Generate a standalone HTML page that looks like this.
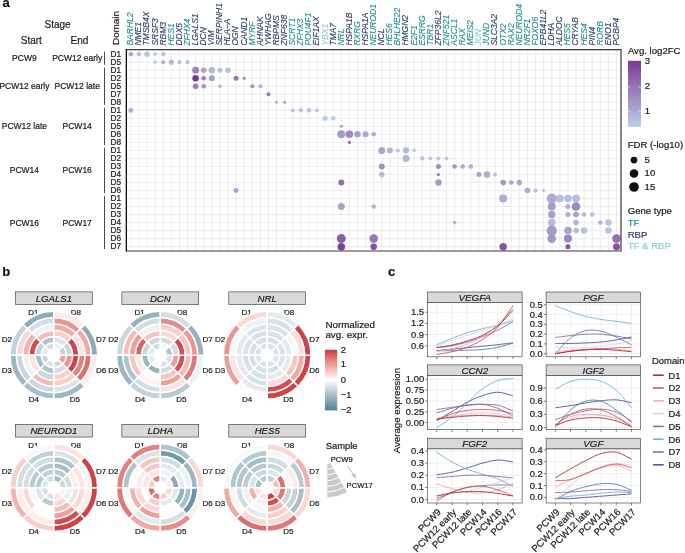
<!DOCTYPE html>
<html><head><meta charset="utf-8"><style>
html,body{margin:0;padding:0;background:#fff;width:685px;height:553px;overflow:hidden}
svg{display:block;will-change:transform}
text{stroke:#1a1a1a;stroke-width:0.2px}
</style></head><body>
<svg width="685" height="553" viewBox="0 0 685 553">
<rect width="685" height="553" fill="#fff"/>
<g stroke="#ebebeb" stroke-width="1"><line x1="130.86" y1="49.6" x2="130.86" y2="251.0"/><line x1="138.95" y1="49.6" x2="138.95" y2="251.0"/><line x1="147.05" y1="49.6" x2="147.05" y2="251.0"/><line x1="155.14" y1="49.6" x2="155.14" y2="251.0"/><line x1="163.24" y1="49.6" x2="163.24" y2="251.0"/><line x1="171.33" y1="49.6" x2="171.33" y2="251.0"/><line x1="179.42" y1="49.6" x2="179.42" y2="251.0"/><line x1="187.52" y1="49.6" x2="187.52" y2="251.0"/><line x1="195.61" y1="49.6" x2="195.61" y2="251.0"/><line x1="203.71" y1="49.6" x2="203.71" y2="251.0"/><line x1="211.80" y1="49.6" x2="211.80" y2="251.0"/><line x1="219.89" y1="49.6" x2="219.89" y2="251.0"/><line x1="227.99" y1="49.6" x2="227.99" y2="251.0"/><line x1="236.08" y1="49.6" x2="236.08" y2="251.0"/><line x1="244.18" y1="49.6" x2="244.18" y2="251.0"/><line x1="252.27" y1="49.6" x2="252.27" y2="251.0"/><line x1="260.36" y1="49.6" x2="260.36" y2="251.0"/><line x1="268.46" y1="49.6" x2="268.46" y2="251.0"/><line x1="276.55" y1="49.6" x2="276.55" y2="251.0"/><line x1="284.65" y1="49.6" x2="284.65" y2="251.0"/><line x1="292.74" y1="49.6" x2="292.74" y2="251.0"/><line x1="300.83" y1="49.6" x2="300.83" y2="251.0"/><line x1="308.93" y1="49.6" x2="308.93" y2="251.0"/><line x1="317.02" y1="49.6" x2="317.02" y2="251.0"/><line x1="325.12" y1="49.6" x2="325.12" y2="251.0"/><line x1="333.21" y1="49.6" x2="333.21" y2="251.0"/><line x1="341.30" y1="49.6" x2="341.30" y2="251.0"/><line x1="349.40" y1="49.6" x2="349.40" y2="251.0"/><line x1="357.49" y1="49.6" x2="357.49" y2="251.0"/><line x1="365.59" y1="49.6" x2="365.59" y2="251.0"/><line x1="373.68" y1="49.6" x2="373.68" y2="251.0"/><line x1="381.77" y1="49.6" x2="381.77" y2="251.0"/><line x1="389.87" y1="49.6" x2="389.87" y2="251.0"/><line x1="397.96" y1="49.6" x2="397.96" y2="251.0"/><line x1="406.06" y1="49.6" x2="406.06" y2="251.0"/><line x1="414.15" y1="49.6" x2="414.15" y2="251.0"/><line x1="422.24" y1="49.6" x2="422.24" y2="251.0"/><line x1="430.34" y1="49.6" x2="430.34" y2="251.0"/><line x1="438.43" y1="49.6" x2="438.43" y2="251.0"/><line x1="446.53" y1="49.6" x2="446.53" y2="251.0"/><line x1="454.62" y1="49.6" x2="454.62" y2="251.0"/><line x1="462.71" y1="49.6" x2="462.71" y2="251.0"/><line x1="470.81" y1="49.6" x2="470.81" y2="251.0"/><line x1="478.90" y1="49.6" x2="478.90" y2="251.0"/><line x1="487.00" y1="49.6" x2="487.00" y2="251.0"/><line x1="495.09" y1="49.6" x2="495.09" y2="251.0"/><line x1="503.18" y1="49.6" x2="503.18" y2="251.0"/><line x1="511.28" y1="49.6" x2="511.28" y2="251.0"/><line x1="519.37" y1="49.6" x2="519.37" y2="251.0"/><line x1="527.47" y1="49.6" x2="527.47" y2="251.0"/><line x1="535.56" y1="49.6" x2="535.56" y2="251.0"/><line x1="543.65" y1="49.6" x2="543.65" y2="251.0"/><line x1="551.75" y1="49.6" x2="551.75" y2="251.0"/><line x1="559.84" y1="49.6" x2="559.84" y2="251.0"/><line x1="567.94" y1="49.6" x2="567.94" y2="251.0"/><line x1="576.03" y1="49.6" x2="576.03" y2="251.0"/><line x1="584.12" y1="49.6" x2="584.12" y2="251.0"/><line x1="592.22" y1="49.6" x2="592.22" y2="251.0"/><line x1="600.31" y1="49.6" x2="600.31" y2="251.0"/><line x1="608.41" y1="49.6" x2="608.41" y2="251.0"/><line x1="616.50" y1="49.6" x2="616.50" y2="251.0"/><line x1="126.4" y1="54.16" x2="621.0" y2="54.16"/><line x1="126.4" y1="62.18" x2="621.0" y2="62.18"/><line x1="126.4" y1="70.20" x2="621.0" y2="70.20"/><line x1="126.4" y1="78.22" x2="621.0" y2="78.22"/><line x1="126.4" y1="86.24" x2="621.0" y2="86.24"/><line x1="126.4" y1="94.26" x2="621.0" y2="94.26"/><line x1="126.4" y1="102.28" x2="621.0" y2="102.28"/><line x1="126.4" y1="110.30" x2="621.0" y2="110.30"/><line x1="126.4" y1="118.32" x2="621.0" y2="118.32"/><line x1="126.4" y1="126.34" x2="621.0" y2="126.34"/><line x1="126.4" y1="134.36" x2="621.0" y2="134.36"/><line x1="126.4" y1="142.38" x2="621.0" y2="142.38"/><line x1="126.4" y1="150.40" x2="621.0" y2="150.40"/><line x1="126.4" y1="158.42" x2="621.0" y2="158.42"/><line x1="126.4" y1="166.44" x2="621.0" y2="166.44"/><line x1="126.4" y1="174.46" x2="621.0" y2="174.46"/><line x1="126.4" y1="182.48" x2="621.0" y2="182.48"/><line x1="126.4" y1="190.50" x2="621.0" y2="190.50"/><line x1="126.4" y1="198.52" x2="621.0" y2="198.52"/><line x1="126.4" y1="206.54" x2="621.0" y2="206.54"/><line x1="126.4" y1="214.56" x2="621.0" y2="214.56"/><line x1="126.4" y1="222.58" x2="621.0" y2="222.58"/><line x1="126.4" y1="230.60" x2="621.0" y2="230.60"/><line x1="126.4" y1="238.62" x2="621.0" y2="238.62"/><line x1="126.4" y1="246.64" x2="621.0" y2="246.64"/></g>
<g><circle cx="130.86" cy="54.16" r="2.20" fill="#aaa2ce"/><circle cx="138.95" cy="54.16" r="2.20" fill="#b4c0de"/><circle cx="147.05" cy="54.16" r="2.75" fill="#b6c4e0"/><circle cx="155.14" cy="54.16" r="1.65" fill="#b4c0de"/><circle cx="163.24" cy="54.16" r="2.15" fill="#b6c4e0"/><circle cx="155.14" cy="62.18" r="1.65" fill="#b4c0de"/><circle cx="163.24" cy="62.18" r="2.05" fill="#aeafd5"/><circle cx="171.33" cy="62.18" r="2.60" fill="#b3bbdb"/><circle cx="179.42" cy="62.18" r="2.15" fill="#b6c4e0"/><circle cx="187.52" cy="62.18" r="2.15" fill="#b6c4e0"/><circle cx="195.61" cy="70.20" r="3.40" fill="#9b7eba"/><circle cx="203.71" cy="70.20" r="2.80" fill="#aaa2ce"/><circle cx="211.80" cy="70.20" r="3.25" fill="#b3bbdb"/><circle cx="219.89" cy="70.20" r="2.50" fill="#b4c0de"/><circle cx="227.99" cy="70.20" r="2.75" fill="#b6c4e0"/><circle cx="195.61" cy="78.22" r="3.25" fill="#7b3894"/><circle cx="203.71" cy="78.22" r="2.30" fill="#9b7eba"/><circle cx="211.80" cy="78.22" r="3.00" fill="#a79bca"/><circle cx="236.08" cy="78.22" r="2.50" fill="#9776b5"/><circle cx="244.18" cy="78.22" r="1.75" fill="#a79bca"/><circle cx="195.61" cy="86.24" r="2.80" fill="#9b7eba"/><circle cx="203.71" cy="86.24" r="2.30" fill="#a494c6"/><circle cx="219.89" cy="86.24" r="1.75" fill="#aeafd5"/><circle cx="252.27" cy="86.24" r="2.00" fill="#a18dc2"/><circle cx="260.36" cy="86.24" r="2.00" fill="#b1b5d8"/><circle cx="268.46" cy="94.26" r="1.95" fill="#9776b5"/><circle cx="276.55" cy="102.28" r="1.40" fill="#aaa2ce"/><circle cx="284.65" cy="102.28" r="1.50" fill="#aaa2ce"/><circle cx="130.86" cy="110.30" r="2.50" fill="#b1b5d8"/><circle cx="292.74" cy="110.30" r="1.90" fill="#b4c0de"/><circle cx="300.83" cy="110.30" r="2.10" fill="#b4c0de"/><circle cx="308.93" cy="110.30" r="2.25" fill="#b6c4e0"/><circle cx="317.02" cy="110.30" r="1.90" fill="#b6c4e0"/><circle cx="325.12" cy="118.32" r="2.65" fill="#bad0e7"/><circle cx="333.21" cy="118.32" r="2.30" fill="#bad0e7"/><circle cx="341.30" cy="126.34" r="1.45" fill="#a494c6"/><circle cx="341.30" cy="134.36" r="4.00" fill="#a79bca"/><circle cx="349.40" cy="134.36" r="3.75" fill="#9e86be"/><circle cx="357.49" cy="134.36" r="3.25" fill="#aaa2ce"/><circle cx="365.59" cy="134.36" r="3.00" fill="#aca9d1"/><circle cx="373.68" cy="134.36" r="2.25" fill="#aeafd5"/><circle cx="349.40" cy="142.38" r="1.60" fill="#946eb1"/><circle cx="381.77" cy="150.40" r="3.50" fill="#aba6d0"/><circle cx="389.87" cy="150.40" r="3.00" fill="#b1b5d8"/><circle cx="397.96" cy="150.40" r="2.00" fill="#b6c4e0"/><circle cx="406.06" cy="150.40" r="3.10" fill="#b3bbdb"/><circle cx="414.15" cy="150.40" r="1.80" fill="#bad0e7"/><circle cx="406.06" cy="158.42" r="3.50" fill="#b1b7d9"/><circle cx="422.24" cy="158.42" r="2.10" fill="#b4c0de"/><circle cx="430.34" cy="158.42" r="1.80" fill="#b6c4e0"/><circle cx="438.43" cy="158.42" r="1.80" fill="#b6c4e0"/><circle cx="446.53" cy="158.42" r="1.80" fill="#b6c4e0"/><circle cx="381.77" cy="166.44" r="3.00" fill="#a18dc2"/><circle cx="438.43" cy="166.44" r="2.50" fill="#a18dc2"/><circle cx="454.62" cy="166.44" r="2.30" fill="#a494c6"/><circle cx="462.71" cy="166.44" r="2.30" fill="#aca9d1"/><circle cx="470.81" cy="166.44" r="2.30" fill="#aeafd5"/><circle cx="381.77" cy="174.46" r="2.80" fill="#b3bbdb"/><circle cx="438.43" cy="174.46" r="1.55" fill="#9776b5"/><circle cx="478.90" cy="174.46" r="2.50" fill="#aaa2ce"/><circle cx="487.00" cy="174.46" r="3.20" fill="#adabd3"/><circle cx="495.09" cy="174.46" r="2.00" fill="#b4c0de"/><circle cx="341.30" cy="182.48" r="3.00" fill="#946eb1"/><circle cx="438.43" cy="182.48" r="3.25" fill="#a79bca"/><circle cx="503.18" cy="182.48" r="2.80" fill="#a494c6"/><circle cx="511.28" cy="182.48" r="2.30" fill="#aaa2ce"/><circle cx="519.37" cy="182.48" r="2.80" fill="#aca9d1"/><circle cx="236.08" cy="190.50" r="2.45" fill="#aaa2ce"/><circle cx="527.47" cy="190.50" r="2.80" fill="#aca9d1"/><circle cx="535.56" cy="190.50" r="2.00" fill="#b4c0de"/><circle cx="543.65" cy="190.50" r="1.50" fill="#b4c0de"/><circle cx="503.18" cy="198.52" r="4.00" fill="#adabd3"/><circle cx="551.75" cy="198.52" r="5.00" fill="#aca9d1"/><circle cx="559.84" cy="198.52" r="4.00" fill="#b4c0de"/><circle cx="567.94" cy="198.52" r="3.75" fill="#b4c0de"/><circle cx="576.03" cy="198.52" r="4.00" fill="#b4c0de"/><circle cx="341.30" cy="206.54" r="3.50" fill="#aaa2ce"/><circle cx="373.68" cy="206.54" r="2.25" fill="#b1b5d8"/><circle cx="551.75" cy="206.54" r="4.00" fill="#a79bca"/><circle cx="567.94" cy="206.54" r="2.50" fill="#aeafd5"/><circle cx="576.03" cy="206.54" r="4.25" fill="#9e86be"/><circle cx="551.75" cy="214.56" r="3.75" fill="#aaa2ce"/><circle cx="567.94" cy="214.56" r="2.50" fill="#aeafd5"/><circle cx="576.03" cy="214.56" r="2.75" fill="#a79bca"/><circle cx="584.12" cy="214.56" r="2.25" fill="#b3bbdb"/><circle cx="592.22" cy="214.56" r="2.25" fill="#b4c0de"/><circle cx="454.62" cy="222.58" r="1.80" fill="#b1b5d8"/><circle cx="551.75" cy="222.58" r="3.75" fill="#b3bbdb"/><circle cx="576.03" cy="222.58" r="2.75" fill="#b1b5d8"/><circle cx="600.31" cy="222.58" r="2.25" fill="#b1b5d8"/><circle cx="608.41" cy="222.58" r="3.25" fill="#b6c4e0"/><circle cx="551.75" cy="230.60" r="5.20" fill="#a79bca"/><circle cx="567.94" cy="230.60" r="3.75" fill="#aaa2ce"/><circle cx="576.03" cy="230.60" r="2.75" fill="#b3bbdb"/><circle cx="584.12" cy="230.60" r="3.25" fill="#b6c4e0"/><circle cx="608.41" cy="230.60" r="3.25" fill="#b6c4e0"/><circle cx="341.30" cy="238.62" r="4.50" fill="#8c5da7"/><circle cx="373.68" cy="238.62" r="4.25" fill="#9776b5"/><circle cx="551.75" cy="238.62" r="4.25" fill="#a494c6"/><circle cx="567.94" cy="238.62" r="4.00" fill="#9e86be"/><circle cx="616.50" cy="238.62" r="4.25" fill="#946eb1"/><circle cx="341.30" cy="246.64" r="3.75" fill="#804299"/><circle cx="373.68" cy="246.64" r="3.25" fill="#844b9e"/><circle cx="503.18" cy="246.64" r="3.75" fill="#8854a3"/><circle cx="567.94" cy="246.64" r="2.50" fill="#8854a3"/><circle cx="616.50" cy="246.64" r="3.50" fill="#864fa0"/></g>
<path d="M126.4 49.6H621.0V251.0H126.4Z" fill="none" stroke="#3a3a3a" stroke-width="1.2"/>
<line x1="126.4" y1="49.1" x2="126.4" y2="251.5" stroke="#111" stroke-width="1.2"/>
<g font-family='"Liberation Sans", sans-serif' font-style="italic" font-size="8.5"><text transform="translate(133.26,45.6) rotate(-90)" fill="#22908f" style="stroke:#22908f;stroke-width:0.12px">BARHL2</text><text transform="translate(141.35,45.6) rotate(-90)" fill="#2d3c6c" style="stroke:#2d3c6c;stroke-width:0.12px">NME1</text><text transform="translate(149.45,45.6) rotate(-90)" fill="#2d3c6c" style="stroke:#2d3c6c;stroke-width:0.12px">TMSB4X</text><text transform="translate(157.54,45.6) rotate(-90)" fill="#2d3c6c" style="stroke:#2d3c6c;stroke-width:0.12px">SRSF3</text><text transform="translate(165.64,45.6) rotate(-90)" fill="#2d3c6c" style="stroke:#2d3c6c;stroke-width:0.12px">RBM3</text><text transform="translate(173.73,45.6) rotate(-90)" fill="#22908f" style="stroke:#22908f;stroke-width:0.12px">HES1</text><text transform="translate(181.82,45.6) rotate(-90)" fill="#2d3c6c" style="stroke:#2d3c6c;stroke-width:0.12px">DDX5</text><text transform="translate(189.92,45.6) rotate(-90)" fill="#22908f" style="stroke:#22908f;stroke-width:0.12px">ZFHX4</text><text transform="translate(198.01,45.6) rotate(-90)" fill="#2d3c6c" style="stroke:#2d3c6c;stroke-width:0.12px">LGALS1</text><text transform="translate(206.11,45.6) rotate(-90)" fill="#2d3c6c" style="stroke:#2d3c6c;stroke-width:0.12px">DCN</text><text transform="translate(214.20,45.6) rotate(-90)" fill="#2d3c6c" style="stroke:#2d3c6c;stroke-width:0.12px">VIM</text><text transform="translate(222.29,45.6) rotate(-90)" fill="#2d3c6c" style="stroke:#2d3c6c;stroke-width:0.12px">SERPINH1</text><text transform="translate(230.39,45.6) rotate(-90)" fill="#2d3c6c" style="stroke:#2d3c6c;stroke-width:0.12px">HLA–A</text><text transform="translate(238.48,45.6) rotate(-90)" fill="#2d3c6c" style="stroke:#2d3c6c;stroke-width:0.12px">OGN</text><text transform="translate(246.58,45.6) rotate(-90)" fill="#2d3c6c" style="stroke:#2d3c6c;stroke-width:0.12px">CAND1</text><text transform="translate(254.67,45.6) rotate(-90)" fill="#22908f" style="stroke:#22908f;stroke-width:0.12px">MYRF</text><text transform="translate(262.76,45.6) rotate(-90)" fill="#2d3c6c" style="stroke:#2d3c6c;stroke-width:0.12px">AHNAK</text><text transform="translate(270.86,45.6) rotate(-90)" fill="#2d3c6c" style="stroke:#2d3c6c;stroke-width:0.12px">YWHAG</text><text transform="translate(278.95,45.6) rotate(-90)" fill="#2d3c6c" style="stroke:#2d3c6c;stroke-width:0.12px">RBPMS</text><text transform="translate(287.05,45.6) rotate(-90)" fill="#2d3c6c" style="stroke:#2d3c6c;stroke-width:0.12px">ZNF638</text><text transform="translate(295.14,45.6) rotate(-90)" fill="#22908f" style="stroke:#22908f;stroke-width:0.12px">SCRT1</text><text transform="translate(303.23,45.6) rotate(-90)" fill="#22908f" style="stroke:#22908f;stroke-width:0.12px">ZFHX3</text><text transform="translate(311.33,45.6) rotate(-90)" fill="#22908f" style="stroke:#22908f;stroke-width:0.12px">POU4F1</text><text transform="translate(319.42,45.6) rotate(-90)" fill="#2d3c6c" style="stroke:#2d3c6c;stroke-width:0.12px">EIF1AX</text><text transform="translate(327.52,45.6) rotate(-90)" fill="#86d0d4" style="stroke:#86d0d4;stroke-width:0.12px">YBX1</text><text transform="translate(335.61,45.6) rotate(-90)" fill="#2d3c6c" style="stroke:#2d3c6c;stroke-width:0.12px">TMA7</text><text transform="translate(343.70,45.6) rotate(-90)" fill="#22908f" style="stroke:#22908f;stroke-width:0.12px">NRL</text><text transform="translate(351.80,45.6) rotate(-90)" fill="#2d3c6c" style="stroke:#2d3c6c;stroke-width:0.12px">HSPA1B</text><text transform="translate(359.89,45.6) rotate(-90)" fill="#22908f" style="stroke:#22908f;stroke-width:0.12px">RXRG</text><text transform="translate(367.99,45.6) rotate(-90)" fill="#2d3c6c" style="stroke:#2d3c6c;stroke-width:0.12px">HSPA1A</text><text transform="translate(376.08,45.6) rotate(-90)" fill="#22908f" style="stroke:#22908f;stroke-width:0.12px">NEUROD1</text><text transform="translate(384.17,45.6) rotate(-90)" fill="#2d3c6c" style="stroke:#2d3c6c;stroke-width:0.12px">NCL</text><text transform="translate(392.27,45.6) rotate(-90)" fill="#22908f" style="stroke:#22908f;stroke-width:0.12px">HES6</text><text transform="translate(400.36,45.6) rotate(-90)" fill="#22908f" style="stroke:#22908f;stroke-width:0.12px">BHLHE22</text><text transform="translate(408.46,45.6) rotate(-90)" fill="#2d3c6c" style="stroke:#2d3c6c;stroke-width:0.12px">HMGN2</text><text transform="translate(416.55,45.6) rotate(-90)" fill="#22908f" style="stroke:#22908f;stroke-width:0.12px">E2F1</text><text transform="translate(424.64,45.6) rotate(-90)" fill="#22908f" style="stroke:#22908f;stroke-width:0.12px">ESRRG</text><text transform="translate(432.74,45.6) rotate(-90)" fill="#22908f" style="stroke:#22908f;stroke-width:0.12px">TBR1</text><text transform="translate(440.83,45.6) rotate(-90)" fill="#2d3c6c" style="stroke:#2d3c6c;stroke-width:0.12px">ZFP36L2</text><text transform="translate(448.93,45.6) rotate(-90)" fill="#22908f" style="stroke:#22908f;stroke-width:0.12px">ZNF521</text><text transform="translate(457.02,45.6) rotate(-90)" fill="#22908f" style="stroke:#22908f;stroke-width:0.12px">ASCL1</text><text transform="translate(465.11,45.6) rotate(-90)" fill="#22908f" style="stroke:#22908f;stroke-width:0.12px">RAX</text><text transform="translate(473.21,45.6) rotate(-90)" fill="#22908f" style="stroke:#22908f;stroke-width:0.12px">MEIS2</text><text transform="translate(481.30,45.6) rotate(-90)" fill="#86d0d4" style="stroke:#86d0d4;stroke-width:0.12px">JUN</text><text transform="translate(489.40,45.6) rotate(-90)" fill="#22908f" style="stroke:#22908f;stroke-width:0.12px">JUND</text><text transform="translate(497.49,45.6) rotate(-90)" fill="#2d3c6c" style="stroke:#2d3c6c;stroke-width:0.12px">SLC3A2</text><text transform="translate(505.58,45.6) rotate(-90)" fill="#22908f" style="stroke:#22908f;stroke-width:0.12px">OTX2</text><text transform="translate(513.68,45.6) rotate(-90)" fill="#22908f" style="stroke:#22908f;stroke-width:0.12px">RAX2</text><text transform="translate(521.77,45.6) rotate(-90)" fill="#22908f" style="stroke:#22908f;stroke-width:0.12px">NEUROD4</text><text transform="translate(529.87,45.6) rotate(-90)" fill="#22908f" style="stroke:#22908f;stroke-width:0.12px">NR2F1</text><text transform="translate(537.96,45.6) rotate(-90)" fill="#22908f" style="stroke:#22908f;stroke-width:0.12px">FOXO6</text><text transform="translate(546.05,45.6) rotate(-90)" fill="#2d3c6c" style="stroke:#2d3c6c;stroke-width:0.12px">EPB41L2</text><text transform="translate(554.15,45.6) rotate(-90)" fill="#2d3c6c" style="stroke:#2d3c6c;stroke-width:0.12px">LDHA</text><text transform="translate(562.24,45.6) rotate(-90)" fill="#2d3c6c" style="stroke:#2d3c6c;stroke-width:0.12px">ALDOC</text><text transform="translate(570.34,45.6) rotate(-90)" fill="#22908f" style="stroke:#22908f;stroke-width:0.12px">HES5</text><text transform="translate(578.43,45.6) rotate(-90)" fill="#2d3c6c" style="stroke:#2d3c6c;stroke-width:0.12px">CRYAB</text><text transform="translate(586.52,45.6) rotate(-90)" fill="#22908f" style="stroke:#22908f;stroke-width:0.12px">HES4</text><text transform="translate(594.62,45.6) rotate(-90)" fill="#2d3c6c" style="stroke:#2d3c6c;stroke-width:0.12px">PIN4</text><text transform="translate(602.71,45.6) rotate(-90)" fill="#22908f" style="stroke:#22908f;stroke-width:0.12px">RORB</text><text transform="translate(610.81,45.6) rotate(-90)" fill="#2d3c6c" style="stroke:#2d3c6c;stroke-width:0.12px">ENO1</text><text transform="translate(618.90,45.6) rotate(-90)" fill="#2d3c6c" style="stroke:#2d3c6c;stroke-width:0.12px">PCBP4</text></g>
<g font-family='"Liberation Sans", sans-serif' font-size="8.3" fill="#1a1a1a"><text x="121.2" y="56.51" text-anchor="end">D1</text><text x="121.2" y="64.53" text-anchor="end">D5</text><text x="24.4" y="61.17" text-anchor="middle" font-size="8.5">PCW9</text><text x="77.2" y="61.17" text-anchor="middle" font-size="8.5">PCW12 early</text><text x="121.2" y="72.55" text-anchor="end">D1</text><text x="121.2" y="80.57" text-anchor="end">D2</text><text x="121.2" y="88.59" text-anchor="end">D5</text><text x="121.2" y="96.61" text-anchor="end">D7</text><text x="121.2" y="104.63" text-anchor="end">D8</text><text x="24.4" y="89.24" text-anchor="middle" font-size="8.5">PCW12 early</text><text x="77.2" y="89.24" text-anchor="middle" font-size="8.5">PCW12 late</text><text x="121.2" y="112.65" text-anchor="end">D1</text><text x="121.2" y="120.67" text-anchor="end">D2</text><text x="121.2" y="128.69" text-anchor="end">D5</text><text x="121.2" y="136.71" text-anchor="end">D6</text><text x="121.2" y="144.73" text-anchor="end">D8</text><text x="24.4" y="129.34" text-anchor="middle" font-size="8.5">PCW12 late</text><text x="77.2" y="129.34" text-anchor="middle" font-size="8.5">PCW14</text><text x="121.2" y="152.75" text-anchor="end">D1</text><text x="121.2" y="160.77" text-anchor="end">D2</text><text x="121.2" y="168.79" text-anchor="end">D3</text><text x="121.2" y="176.81" text-anchor="end">D4</text><text x="121.2" y="184.83" text-anchor="end">D5</text><text x="121.2" y="192.85" text-anchor="end">D6</text><text x="24.4" y="173.45" text-anchor="middle" font-size="8.5">PCW14</text><text x="77.2" y="173.45" text-anchor="middle" font-size="8.5">PCW16</text><text x="121.2" y="200.87" text-anchor="end">D1</text><text x="121.2" y="208.89" text-anchor="end">D2</text><text x="121.2" y="216.91" text-anchor="end">D3</text><text x="121.2" y="224.93" text-anchor="end">D4</text><text x="121.2" y="232.95" text-anchor="end">D5</text><text x="121.2" y="240.97" text-anchor="end">D6</text><text x="121.2" y="248.99" text-anchor="end">D7</text><text x="24.4" y="225.58" text-anchor="middle" font-size="8.5">PCW16</text><text x="77.2" y="225.58" text-anchor="middle" font-size="8.5">PCW17</text></g>
<g stroke="#4a4a4a" stroke-width="1"><line x1="104.5" y1="51.76" x2="104.5" y2="64.78"/><line x1="104.5" y1="67.80" x2="104.5" y2="104.88"/><line x1="104.5" y1="107.90" x2="104.5" y2="144.98"/><line x1="104.5" y1="148.00" x2="104.5" y2="193.10"/><line x1="104.5" y1="196.12" x2="104.5" y2="249.24"/></g>
<g font-family='"Liberation Sans", sans-serif' font-size="10" fill="#1a1a1a"><text x="57.6" y="27.9" text-anchor="middle">Stage</text><text x="31.3" y="44.0" text-anchor="middle">Start</text><text x="79.5" y="44.0" text-anchor="middle">End</text><text transform="translate(118.9,45) rotate(-90)" font-size="9.9">Domain</text></g>
<text x="2.6" y="7.0" font-family='"Liberation Sans", sans-serif' font-weight="bold" font-size="13" fill="#111">a</text>
<defs><linearGradient id="cb" x1="0" y1="1" x2="0" y2="0"><stop offset="0.0" stop-color="#bad0e7"/><stop offset="0.1" stop-color="#b5c1df"/><stop offset="0.2" stop-color="#afb1d6"/><stop offset="0.3" stop-color="#aaa2ce"/><stop offset="0.4" stop-color="#a493c5"/><stop offset="0.5" stop-color="#9d84bd"/><stop offset="0.6" stop-color="#9776b5"/><stop offset="0.7" stop-color="#9067ad"/><stop offset="0.8" stop-color="#8a58a4"/><stop offset="0.9" stop-color="#82489c"/><stop offset="1.0" stop-color="#7b3894"/></linearGradient><linearGradient id="cb2" x1="0" y1="1" x2="0" y2="0"><stop offset="0.0" stop-color="#4e8295"/><stop offset="0.1" stop-color="#729aa9"/><stop offset="0.2" stop-color="#95b2be"/><stop offset="0.3" stop-color="#b8cbd3"/><stop offset="0.4" stop-color="#dbe5e9"/><stop offset="0.5" stop-color="#ffffff"/><stop offset="0.6" stop-color="#fbd8d5"/><stop offset="0.7" stop-color="#f3b2ad"/><stop offset="0.8" stop-color="#e88c86"/><stop offset="0.9" stop-color="#da6462"/><stop offset="1.0" stop-color="#c9363f"/></linearGradient></defs>
<rect x="628" y="60.8" width="13" height="66.2" fill="url(#cb)"/>
<g stroke="#fff" stroke-width="0.6"><line x1="628" y1="86.9" x2="630.5" y2="86.9"/><line x1="638.5" y1="86.9" x2="641" y2="86.9"/><line x1="628" y1="111.8" x2="630.5" y2="111.8"/><line x1="638.5" y1="111.8" x2="641" y2="111.8"/></g>
<g font-family='"Liberation Sans", sans-serif' font-size="9.6" fill="#1a1a1a"><text x="627.9" y="53.6">Avg. log2FC</text><text x="644.8" y="64.1">3</text><text x="644.8" y="89.4">2</text><text x="644.8" y="114.3">1</text><text x="627.7" y="148.3">FDR (-log10)</text><text x="644.6" y="163.3">5</text><text x="644.6" y="176.3">10</text><text x="644.6" y="189.6">15</text><text x="627.7" y="214">Gene type</text><text x="627.7" y="226.2" fill="#22908f" style="stroke:#22908f">TF</text><text x="627.7" y="237.5" fill="#2d3c6c" style="stroke:#2d3c6c">RBP</text><text x="627.7" y="248.5" fill="#86d0d4" style="stroke:#86d0d4">TF &amp; RBP</text></g>
<g fill="#111"><circle cx="634" cy="160.1" r="3.4"/><circle cx="634" cy="173.6" r="4.25"/><circle cx="634" cy="187.0" r="4.85"/></g>
<text x="2.3" y="275.6" font-family='"Liberation Sans", sans-serif' font-weight="bold" font-size="13" fill="#111">b</text>
<rect x="15.46" y="291.90" width="76.8" height="12.7" fill="#d9d9d9" stroke="#333" stroke-width="0.6"/>
<text x="53.86" y="301.90" text-anchor="middle" font-family='"Liberation Sans", sans-serif' font-style="italic" font-size="9.6" fill="#1a1a1a">LGALS1</text>
<g font-family='"Liberation Sans", sans-serif' font-size="8.0" fill="#1a1a1a"><text x="33.26" y="315.30" text-anchor="middle">D1</text><text x="75.76" y="315.30" text-anchor="middle">D8</text><text x="6.86" y="342.00" text-anchor="middle">D2</text><text x="101.06" y="342.00" text-anchor="middle">D7</text><text x="6.86" y="373.30" text-anchor="middle">D3</text><text x="101.06" y="373.30" text-anchor="middle">D6</text><text x="33.76" y="401.50" text-anchor="middle">D4</text><text x="74.96" y="401.50" text-anchor="middle">D5</text></g>
<rect x="121.90" y="291.90" width="76.8" height="12.7" fill="#d9d9d9" stroke="#333" stroke-width="0.6"/>
<text x="160.30" y="301.90" text-anchor="middle" font-family='"Liberation Sans", sans-serif' font-style="italic" font-size="9.6" fill="#1a1a1a">DCN</text>
<g font-family='"Liberation Sans", sans-serif' font-size="8.0" fill="#1a1a1a"><text x="139.70" y="315.30" text-anchor="middle">D1</text><text x="182.20" y="315.30" text-anchor="middle">D8</text><text x="113.30" y="342.00" text-anchor="middle">D2</text><text x="207.50" y="342.00" text-anchor="middle">D7</text><text x="113.30" y="373.30" text-anchor="middle">D3</text><text x="207.50" y="373.30" text-anchor="middle">D6</text><text x="140.20" y="401.50" text-anchor="middle">D4</text><text x="181.40" y="401.50" text-anchor="middle">D5</text></g>
<rect x="228.80" y="291.90" width="76.8" height="12.7" fill="#d9d9d9" stroke="#333" stroke-width="0.6"/>
<text x="267.20" y="301.90" text-anchor="middle" font-family='"Liberation Sans", sans-serif' font-style="italic" font-size="9.6" fill="#1a1a1a">NRL</text>
<g font-family='"Liberation Sans", sans-serif' font-size="8.0" fill="#1a1a1a"><text x="246.60" y="315.30" text-anchor="middle">D1</text><text x="289.10" y="315.30" text-anchor="middle">D8</text><text x="220.20" y="342.00" text-anchor="middle">D2</text><text x="314.40" y="342.00" text-anchor="middle">D7</text><text x="220.20" y="373.30" text-anchor="middle">D3</text><text x="314.40" y="373.30" text-anchor="middle">D6</text><text x="247.10" y="401.50" text-anchor="middle">D4</text><text x="288.30" y="401.50" text-anchor="middle">D5</text></g>
<rect x="15.46" y="424.35" width="76.8" height="12.7" fill="#d9d9d9" stroke="#333" stroke-width="0.6"/>
<text x="53.86" y="434.35" text-anchor="middle" font-family='"Liberation Sans", sans-serif' font-style="italic" font-size="9.6" fill="#1a1a1a">NEUROD1</text>
<g font-family='"Liberation Sans", sans-serif' font-size="8.0" fill="#1a1a1a"><text x="33.26" y="447.75" text-anchor="middle">D1</text><text x="75.76" y="447.75" text-anchor="middle">D8</text><text x="6.86" y="474.45" text-anchor="middle">D2</text><text x="101.06" y="474.45" text-anchor="middle">D7</text><text x="6.86" y="505.75" text-anchor="middle">D3</text><text x="101.06" y="505.75" text-anchor="middle">D6</text><text x="33.76" y="533.95" text-anchor="middle">D4</text><text x="74.96" y="533.95" text-anchor="middle">D5</text></g>
<rect x="121.90" y="424.35" width="76.8" height="12.7" fill="#d9d9d9" stroke="#333" stroke-width="0.6"/>
<text x="160.30" y="434.35" text-anchor="middle" font-family='"Liberation Sans", sans-serif' font-style="italic" font-size="9.6" fill="#1a1a1a">LDHA</text>
<g font-family='"Liberation Sans", sans-serif' font-size="8.0" fill="#1a1a1a"><text x="139.70" y="447.75" text-anchor="middle">D1</text><text x="182.20" y="447.75" text-anchor="middle">D8</text><text x="113.30" y="474.45" text-anchor="middle">D2</text><text x="207.50" y="474.45" text-anchor="middle">D7</text><text x="113.30" y="505.75" text-anchor="middle">D3</text><text x="207.50" y="505.75" text-anchor="middle">D6</text><text x="140.20" y="533.95" text-anchor="middle">D4</text><text x="181.40" y="533.95" text-anchor="middle">D5</text></g>
<rect x="228.80" y="424.35" width="76.8" height="12.7" fill="#d9d9d9" stroke="#333" stroke-width="0.6"/>
<text x="267.20" y="434.35" text-anchor="middle" font-family='"Liberation Sans", sans-serif' font-style="italic" font-size="9.6" fill="#1a1a1a">HES5</text>
<g font-family='"Liberation Sans", sans-serif' font-size="8.0" fill="#1a1a1a"><text x="246.60" y="447.75" text-anchor="middle">D1</text><text x="289.10" y="447.75" text-anchor="middle">D8</text><text x="220.20" y="474.45" text-anchor="middle">D2</text><text x="314.40" y="474.45" text-anchor="middle">D7</text><text x="220.20" y="505.75" text-anchor="middle">D3</text><text x="314.40" y="505.75" text-anchor="middle">D6</text><text x="247.10" y="533.95" text-anchor="middle">D4</text><text x="288.30" y="533.95" text-anchor="middle">D5</text></g>
<g stroke="#fff" stroke-width="1.5" stroke-linejoin="miter"><path d="M53.86 342.67A12.53 12.53 0 0 0 45.00 346.34L49.43 350.77A6.26 6.26 0 0 1 53.86 348.94Z" fill="#d3dee4"/><path d="M53.86 336.41A18.79 18.79 0 0 0 40.57 341.91L45.00 346.34A12.53 12.53 0 0 1 53.86 342.67Z" fill="#afc5ce"/><path d="M53.86 330.14A25.06 25.06 0 0 0 36.14 337.48L40.57 341.91A18.79 18.79 0 0 1 53.86 336.41Z" fill="#f6bcb7"/><path d="M53.86 323.88A31.32 31.32 0 0 0 31.71 333.05L36.14 337.48A25.06 25.06 0 0 1 53.86 330.14Z" fill="#edf2f4"/><path d="M53.86 317.61A37.59 37.59 0 0 0 27.28 328.62L31.71 333.05A31.32 31.32 0 0 1 53.86 323.88Z" fill="#d3dee4"/><path d="M53.86 311.35A43.85 43.85 0 0 0 22.85 324.19L27.28 328.62A37.59 37.59 0 0 1 53.86 317.61Z" fill="#8dacb9"/><path d="M45.00 346.34A12.53 12.53 0 0 0 41.33 355.20L47.60 355.20A6.26 6.26 0 0 1 49.43 350.77Z" fill="#e4ebef"/><path d="M40.57 341.91A18.79 18.79 0 0 0 35.07 355.20L41.33 355.20A12.53 12.53 0 0 1 45.00 346.34Z" fill="#c1d2d9"/><path d="M36.14 337.48A25.06 25.06 0 0 0 28.80 355.20L35.07 355.20A18.79 18.79 0 0 1 40.57 341.91Z" fill="#d24e50"/><path d="M31.71 333.05A31.32 31.32 0 0 0 22.54 355.20L28.80 355.20A25.06 25.06 0 0 1 36.14 337.48Z" fill="#f3b2ad"/><path d="M27.28 328.62A37.59 37.59 0 0 0 16.27 355.20L22.54 355.20A31.32 31.32 0 0 1 31.71 333.05Z" fill="#fbd8d5"/><path d="M22.85 324.19A43.85 43.85 0 0 0 10.01 355.20L16.27 355.20A37.59 37.59 0 0 1 27.28 328.62Z" fill="#c1d2d9"/><path d="M41.33 355.20A12.53 12.53 0 0 0 45.00 364.06L49.43 359.63A6.26 6.26 0 0 1 47.60 355.20Z" fill="#cad8de"/><path d="M35.07 355.20A18.79 18.79 0 0 0 40.57 368.49L45.00 364.06A12.53 12.53 0 0 1 41.33 355.20Z" fill="#a7bfc9"/><path d="M28.80 355.20A25.06 25.06 0 0 0 36.14 372.92L40.57 368.49A18.79 18.79 0 0 1 35.07 355.20Z" fill="#fce2e0"/><path d="M22.54 355.20A31.32 31.32 0 0 0 31.71 377.35L36.14 372.92A25.06 25.06 0 0 1 28.80 355.20Z" fill="#edf2f4"/><path d="M16.27 355.20A37.59 37.59 0 0 0 27.28 381.78L31.71 377.35A31.32 31.32 0 0 1 22.54 355.20Z" fill="#cad8de"/><path d="M10.01 355.20A43.85 43.85 0 0 0 22.85 386.21L27.28 381.78A37.59 37.59 0 0 1 16.27 355.20Z" fill="#9eb8c3"/><path d="M45.00 364.06A12.53 12.53 0 0 0 53.86 367.73L53.86 361.46A6.26 6.26 0 0 1 49.43 359.63Z" fill="#dbe5e9"/><path d="M40.57 368.49A18.79 18.79 0 0 0 53.86 373.99L53.86 367.73A12.53 12.53 0 0 1 45.00 364.06Z" fill="#afc5ce"/><path d="M36.14 372.92A25.06 25.06 0 0 0 53.86 380.26L53.86 373.99A18.79 18.79 0 0 1 40.57 368.49Z" fill="#cad8de"/><path d="M31.71 377.35A31.32 31.32 0 0 0 53.86 386.52L53.86 380.26A25.06 25.06 0 0 1 36.14 372.92Z" fill="#f6bcb7"/><path d="M27.28 381.78A37.59 37.59 0 0 0 53.86 392.79L53.86 386.52A31.32 31.32 0 0 1 31.71 377.35Z" fill="#cad8de"/><path d="M22.85 386.21A43.85 43.85 0 0 0 53.86 399.05L53.86 392.79A37.59 37.59 0 0 1 27.28 381.78Z" fill="#a7bfc9"/><path d="M53.86 367.73A12.53 12.53 0 0 0 62.72 364.06L58.29 359.63A6.26 6.26 0 0 1 53.86 361.46Z" fill="#cad8de"/><path d="M53.86 373.99A18.79 18.79 0 0 0 67.15 368.49L62.72 364.06A12.53 12.53 0 0 1 53.86 367.73Z" fill="#d3dee4"/><path d="M53.86 380.26A25.06 25.06 0 0 0 71.58 372.92L67.15 368.49A18.79 18.79 0 0 1 53.86 373.99Z" fill="#facfcb"/><path d="M53.86 386.52A31.32 31.32 0 0 0 76.01 377.35L71.58 372.92A25.06 25.06 0 0 1 53.86 380.26Z" fill="#facfcb"/><path d="M53.86 392.79A37.59 37.59 0 0 0 80.44 381.78L76.01 377.35A31.32 31.32 0 0 1 53.86 386.52Z" fill="#dbe5e9"/><path d="M53.86 399.05A43.85 43.85 0 0 0 84.87 386.21L80.44 381.78A37.59 37.59 0 0 1 53.86 392.79Z" fill="#9eb8c3"/><path d="M62.72 364.06A12.53 12.53 0 0 0 66.39 355.20L60.12 355.20A6.26 6.26 0 0 1 58.29 359.63Z" fill="#ee9f9a"/><path d="M67.15 368.49A18.79 18.79 0 0 0 72.65 355.20L66.39 355.20A12.53 12.53 0 0 1 62.72 364.06Z" fill="#eb9590"/><path d="M71.58 372.92A25.06 25.06 0 0 0 78.92 355.20L72.65 355.20A18.79 18.79 0 0 1 67.15 368.49Z" fill="#ce4347"/><path d="M76.01 377.35A31.32 31.32 0 0 0 85.18 355.20L78.92 355.20A25.06 25.06 0 0 1 71.58 372.92Z" fill="#e5827d"/><path d="M80.44 381.78A37.59 37.59 0 0 0 91.45 355.20L85.18 355.20A31.32 31.32 0 0 1 76.01 377.35Z" fill="#de6e6b"/><path d="M84.87 386.21A43.85 43.85 0 0 0 97.71 355.20L91.45 355.20A37.59 37.59 0 0 1 80.44 381.78Z" fill="#feecea"/><path d="M66.39 355.20A12.53 12.53 0 0 0 62.72 346.34L58.29 350.77A6.26 6.26 0 0 1 60.12 355.20Z" fill="#c1d2d9"/><path d="M72.65 355.20A18.79 18.79 0 0 0 67.15 341.91L62.72 346.34A12.53 12.53 0 0 1 66.39 355.20Z" fill="#cad8de"/><path d="M78.92 355.20A25.06 25.06 0 0 0 71.58 337.48L67.15 341.91A18.79 18.79 0 0 1 72.65 355.20Z" fill="#ce4347"/><path d="M85.18 355.20A31.32 31.32 0 0 0 76.01 333.05L71.58 337.48A25.06 25.06 0 0 1 78.92 355.20Z" fill="#fce2e0"/><path d="M91.45 355.20A37.59 37.59 0 0 0 80.44 328.62L76.01 333.05A31.32 31.32 0 0 1 85.18 355.20Z" fill="#f1a9a3"/><path d="M97.71 355.20A43.85 43.85 0 0 0 84.87 324.19L80.44 328.62A37.59 37.59 0 0 1 91.45 355.20Z" fill="#8dacb9"/><path d="M62.72 346.34A12.53 12.53 0 0 0 53.86 342.67L53.86 348.94A6.26 6.26 0 0 1 58.29 350.77Z" fill="#edf2f4"/><path d="M67.15 341.91A18.79 18.79 0 0 0 53.86 336.41L53.86 342.67A12.53 12.53 0 0 1 62.72 346.34Z" fill="#dbe5e9"/><path d="M71.58 337.48A25.06 25.06 0 0 0 53.86 330.14L53.86 336.41A18.79 18.79 0 0 1 67.15 341.91Z" fill="#facfcb"/><path d="M76.01 333.05A31.32 31.32 0 0 0 53.86 323.88L53.86 330.14A25.06 25.06 0 0 1 71.58 337.48Z" fill="#f1a9a3"/><path d="M80.44 328.62A37.59 37.59 0 0 0 53.86 317.61L53.86 323.88A31.32 31.32 0 0 1 76.01 333.05Z" fill="#eb9590"/><path d="M84.87 324.19A43.85 43.85 0 0 0 53.86 311.35L53.86 317.61A37.59 37.59 0 0 1 80.44 328.62Z" fill="#feecea"/><path d="M160.30 342.67A12.53 12.53 0 0 0 151.44 346.34L155.87 350.77A6.26 6.26 0 0 1 160.30 348.94Z" fill="#d3dee4"/><path d="M160.30 336.41A18.79 18.79 0 0 0 147.01 341.91L151.44 346.34A12.53 12.53 0 0 1 160.30 342.67Z" fill="#cad8de"/><path d="M160.30 330.14A25.06 25.06 0 0 0 142.58 337.48L147.01 341.91A18.79 18.79 0 0 1 160.30 336.41Z" fill="#f8c5c1"/><path d="M160.30 323.88A31.32 31.32 0 0 0 138.15 333.05L142.58 337.48A25.06 25.06 0 0 1 160.30 330.14Z" fill="#edf2f4"/><path d="M160.30 317.61A37.59 37.59 0 0 0 133.72 328.62L138.15 333.05A31.32 31.32 0 0 1 160.30 323.88Z" fill="#d3dee4"/><path d="M160.30 311.35A43.85 43.85 0 0 0 129.29 324.19L133.72 328.62A37.59 37.59 0 0 1 160.30 317.61Z" fill="#95b2be"/><path d="M151.44 346.34A12.53 12.53 0 0 0 147.77 355.20L154.04 355.20A6.26 6.26 0 0 1 155.87 350.77Z" fill="#e4ebef"/><path d="M147.01 341.91A18.79 18.79 0 0 0 141.51 355.20L147.77 355.20A12.53 12.53 0 0 1 151.44 346.34Z" fill="#cad8de"/><path d="M142.58 337.48A25.06 25.06 0 0 0 135.24 355.20L141.51 355.20A18.79 18.79 0 0 1 147.01 341.91Z" fill="#da6462"/><path d="M138.15 333.05A31.32 31.32 0 0 0 128.98 355.20L135.24 355.20A25.06 25.06 0 0 1 142.58 337.48Z" fill="#ee9f9a"/><path d="M133.72 328.62A37.59 37.59 0 0 0 122.71 355.20L128.98 355.20A31.32 31.32 0 0 1 138.15 333.05Z" fill="#f6bcb7"/><path d="M129.29 324.19A43.85 43.85 0 0 0 116.45 355.20L122.71 355.20A37.59 37.59 0 0 1 133.72 328.62Z" fill="#cad8de"/><path d="M147.77 355.20A12.53 12.53 0 0 0 151.44 364.06L155.87 359.63A6.26 6.26 0 0 1 154.04 355.20Z" fill="#e4ebef"/><path d="M141.51 355.20A18.79 18.79 0 0 0 147.01 368.49L151.44 364.06A12.53 12.53 0 0 1 147.77 355.20Z" fill="#9eb8c3"/><path d="M135.24 355.20A25.06 25.06 0 0 0 142.58 372.92L147.01 368.49A18.79 18.79 0 0 1 141.51 355.20Z" fill="#feecea"/><path d="M128.98 355.20A31.32 31.32 0 0 0 138.15 377.35L142.58 372.92A25.06 25.06 0 0 1 135.24 355.20Z" fill="#f8c5c1"/><path d="M122.71 355.20A37.59 37.59 0 0 0 133.72 381.78L138.15 377.35A31.32 31.32 0 0 1 128.98 355.20Z" fill="#afc5ce"/><path d="M116.45 355.20A43.85 43.85 0 0 0 129.29 386.21L133.72 381.78A37.59 37.59 0 0 1 122.71 355.20Z" fill="#9eb8c3"/><path d="M151.44 364.06A12.53 12.53 0 0 0 160.30 367.73L160.30 361.46A6.26 6.26 0 0 1 155.87 359.63Z" fill="#f6f8f9"/><path d="M147.01 368.49A18.79 18.79 0 0 0 160.30 373.99L160.30 367.73A12.53 12.53 0 0 1 151.44 364.06Z" fill="#95b2be"/><path d="M142.58 372.92A25.06 25.06 0 0 0 160.30 380.26L160.30 373.99A18.79 18.79 0 0 1 147.01 368.49Z" fill="#ffffff"/><path d="M138.15 377.35A31.32 31.32 0 0 0 160.30 386.52L160.30 380.26A25.06 25.06 0 0 1 142.58 372.92Z" fill="#fef5f4"/><path d="M133.72 381.78A37.59 37.59 0 0 0 160.30 392.79L160.30 386.52A31.32 31.32 0 0 1 138.15 377.35Z" fill="#d3dee4"/><path d="M129.29 386.21A43.85 43.85 0 0 0 160.30 399.05L160.30 392.79A37.59 37.59 0 0 1 133.72 381.78Z" fill="#c1d2d9"/><path d="M160.30 367.73A12.53 12.53 0 0 0 169.16 364.06L164.73 359.63A6.26 6.26 0 0 1 160.30 361.46Z" fill="#dbe5e9"/><path d="M160.30 373.99A18.79 18.79 0 0 0 173.59 368.49L169.16 364.06A12.53 12.53 0 0 1 160.30 367.73Z" fill="#d3dee4"/><path d="M160.30 380.26A25.06 25.06 0 0 0 178.02 372.92L173.59 368.49A18.79 18.79 0 0 1 160.30 373.99Z" fill="#f8c5c1"/><path d="M160.30 386.52A31.32 31.32 0 0 0 182.45 377.35L178.02 372.92A25.06 25.06 0 0 1 160.30 380.26Z" fill="#ee9f9a"/><path d="M160.30 392.79A37.59 37.59 0 0 0 186.88 381.78L182.45 377.35A31.32 31.32 0 0 1 160.30 386.52Z" fill="#fce2e0"/><path d="M160.30 399.05A43.85 43.85 0 0 0 191.31 386.21L186.88 381.78A37.59 37.59 0 0 1 160.30 392.79Z" fill="#b8cbd3"/><path d="M169.16 364.06A12.53 12.53 0 0 0 172.83 355.20L166.56 355.20A6.26 6.26 0 0 1 164.73 359.63Z" fill="#dbe5e9"/><path d="M173.59 368.49A18.79 18.79 0 0 0 179.09 355.20L172.83 355.20A12.53 12.53 0 0 1 169.16 364.06Z" fill="#ee9f9a"/><path d="M178.02 372.92A25.06 25.06 0 0 0 185.36 355.20L179.09 355.20A18.79 18.79 0 0 1 173.59 368.49Z" fill="#d24e50"/><path d="M182.45 377.35A31.32 31.32 0 0 0 191.62 355.20L185.36 355.20A25.06 25.06 0 0 1 178.02 372.92Z" fill="#f6bcb7"/><path d="M186.88 381.78A37.59 37.59 0 0 0 197.89 355.20L191.62 355.20A31.32 31.32 0 0 1 182.45 377.35Z" fill="#e27874"/><path d="M191.31 386.21A43.85 43.85 0 0 0 204.15 355.20L197.89 355.20A37.59 37.59 0 0 1 186.88 381.78Z" fill="#edf2f4"/><path d="M172.83 355.20A12.53 12.53 0 0 0 169.16 346.34L164.73 350.77A6.26 6.26 0 0 1 166.56 355.20Z" fill="#afc5ce"/><path d="M179.09 355.20A18.79 18.79 0 0 0 173.59 341.91L169.16 346.34A12.53 12.53 0 0 1 172.83 355.20Z" fill="#d3dee4"/><path d="M185.36 355.20A25.06 25.06 0 0 0 178.02 337.48L173.59 341.91A18.79 18.79 0 0 1 179.09 355.20Z" fill="#d24e50"/><path d="M191.62 355.20A31.32 31.32 0 0 0 182.45 333.05L178.02 337.48A25.06 25.06 0 0 1 185.36 355.20Z" fill="#f8c5c1"/><path d="M197.89 355.20A37.59 37.59 0 0 0 186.88 328.62L182.45 333.05A31.32 31.32 0 0 1 191.62 355.20Z" fill="#eb9590"/><path d="M204.15 355.20A43.85 43.85 0 0 0 191.31 324.19L186.88 328.62A37.59 37.59 0 0 1 197.89 355.20Z" fill="#95b2be"/><path d="M169.16 346.34A12.53 12.53 0 0 0 160.30 342.67L160.30 348.94A6.26 6.26 0 0 1 164.73 350.77Z" fill="#f6f8f9"/><path d="M173.59 341.91A18.79 18.79 0 0 0 160.30 336.41L160.30 342.67A12.53 12.53 0 0 1 169.16 346.34Z" fill="#d3dee4"/><path d="M178.02 337.48A25.06 25.06 0 0 0 160.30 330.14L160.30 336.41A18.79 18.79 0 0 1 173.59 341.91Z" fill="#fbd8d5"/><path d="M182.45 333.05A31.32 31.32 0 0 0 160.30 323.88L160.30 330.14A25.06 25.06 0 0 1 178.02 337.48Z" fill="#facfcb"/><path d="M186.88 328.62A37.59 37.59 0 0 0 160.30 317.61L160.30 323.88A31.32 31.32 0 0 1 182.45 333.05Z" fill="#e88c86"/><path d="M191.31 324.19A43.85 43.85 0 0 0 160.30 311.35L160.30 317.61A37.59 37.59 0 0 1 186.88 328.62Z" fill="#d3dee4"/><path d="M267.20 342.67A12.53 12.53 0 0 0 258.34 346.34L262.77 350.77A6.26 6.26 0 0 1 267.20 348.94Z" fill="#dbe5e9"/><path d="M267.20 336.41A18.79 18.79 0 0 0 253.91 341.91L258.34 346.34A12.53 12.53 0 0 1 267.20 342.67Z" fill="#d7e2e6"/><path d="M267.20 330.14A25.06 25.06 0 0 0 249.48 337.48L253.91 341.91A18.79 18.79 0 0 1 267.20 336.41Z" fill="#d7e2e6"/><path d="M267.20 323.88A31.32 31.32 0 0 0 245.05 333.05L249.48 337.48A25.06 25.06 0 0 1 267.20 330.14Z" fill="#dbe5e9"/><path d="M267.20 317.61A37.59 37.59 0 0 0 240.62 328.62L245.05 333.05A31.32 31.32 0 0 1 267.20 323.88Z" fill="#edf2f4"/><path d="M267.20 311.35A43.85 43.85 0 0 0 236.19 324.19L240.62 328.62A37.59 37.59 0 0 1 267.20 317.61Z" fill="#fbd8d5"/><path d="M258.34 346.34A12.53 12.53 0 0 0 254.67 355.20L260.94 355.20A6.26 6.26 0 0 1 262.77 350.77Z" fill="#d7e2e6"/><path d="M253.91 341.91A18.79 18.79 0 0 0 248.41 355.20L254.67 355.20A12.53 12.53 0 0 1 258.34 346.34Z" fill="#d7e2e6"/><path d="M249.48 337.48A25.06 25.06 0 0 0 242.14 355.20L248.41 355.20A18.79 18.79 0 0 1 253.91 341.91Z" fill="#dbe5e9"/><path d="M245.05 333.05A31.32 31.32 0 0 0 235.88 355.20L242.14 355.20A25.06 25.06 0 0 1 249.48 337.48Z" fill="#e4ebef"/><path d="M240.62 328.62A37.59 37.59 0 0 0 229.61 355.20L235.88 355.20A31.32 31.32 0 0 1 245.05 333.05Z" fill="#f6f8f9"/><path d="M236.19 324.19A43.85 43.85 0 0 0 223.35 355.20L229.61 355.20A37.59 37.59 0 0 1 240.62 328.62Z" fill="#eb9590"/><path d="M254.67 355.20A12.53 12.53 0 0 0 258.34 364.06L262.77 359.63A6.26 6.26 0 0 1 260.94 355.20Z" fill="#dbe5e9"/><path d="M248.41 355.20A18.79 18.79 0 0 0 253.91 368.49L258.34 364.06A12.53 12.53 0 0 1 254.67 355.20Z" fill="#d7e2e6"/><path d="M242.14 355.20A25.06 25.06 0 0 0 249.48 372.92L253.91 368.49A18.79 18.79 0 0 1 248.41 355.20Z" fill="#d7e2e6"/><path d="M235.88 355.20A31.32 31.32 0 0 0 245.05 377.35L249.48 372.92A25.06 25.06 0 0 1 242.14 355.20Z" fill="#e4ebef"/><path d="M229.61 355.20A37.59 37.59 0 0 0 240.62 381.78L245.05 377.35A31.32 31.32 0 0 1 235.88 355.20Z" fill="#fce2e0"/><path d="M223.35 355.20A43.85 43.85 0 0 0 236.19 386.21L240.62 381.78A37.59 37.59 0 0 1 229.61 355.20Z" fill="#ee9f9a"/><path d="M258.34 364.06A12.53 12.53 0 0 0 267.20 367.73L267.20 361.46A6.26 6.26 0 0 1 262.77 359.63Z" fill="#dbe5e9"/><path d="M253.91 368.49A18.79 18.79 0 0 0 267.20 373.99L267.20 367.73A12.53 12.53 0 0 1 258.34 364.06Z" fill="#d7e2e6"/><path d="M249.48 372.92A25.06 25.06 0 0 0 267.20 380.26L267.20 373.99A18.79 18.79 0 0 1 253.91 368.49Z" fill="#d7e2e6"/><path d="M245.05 377.35A31.32 31.32 0 0 0 267.20 386.52L267.20 380.26A25.06 25.06 0 0 1 249.48 372.92Z" fill="#d7e2e6"/><path d="M240.62 381.78A37.59 37.59 0 0 0 267.20 392.79L267.20 386.52A31.32 31.32 0 0 1 245.05 377.35Z" fill="#e4ebef"/><path d="M236.19 386.21A43.85 43.85 0 0 0 267.20 399.05L267.20 392.79A37.59 37.59 0 0 1 240.62 381.78Z" fill="#fbfcfc"/><path d="M267.20 367.73A12.53 12.53 0 0 0 276.06 364.06L271.63 359.63A6.26 6.26 0 0 1 267.20 361.46Z" fill="#dbe5e9"/><path d="M267.20 373.99A18.79 18.79 0 0 0 280.49 368.49L276.06 364.06A12.53 12.53 0 0 1 267.20 367.73Z" fill="#d7e2e6"/><path d="M267.20 380.26A25.06 25.06 0 0 0 284.92 372.92L280.49 368.49A18.79 18.79 0 0 1 267.20 373.99Z" fill="#e4ebef"/><path d="M267.20 386.52A31.32 31.32 0 0 0 289.35 377.35L284.92 372.92A25.06 25.06 0 0 1 267.20 380.26Z" fill="#fcddda"/><path d="M267.20 392.79A37.59 37.59 0 0 0 293.78 381.78L289.35 377.35A31.32 31.32 0 0 1 267.20 386.52Z" fill="#d24e50"/><path d="M267.20 399.05A43.85 43.85 0 0 0 298.21 386.21L293.78 381.78A37.59 37.59 0 0 1 267.20 392.79Z" fill="#ce4347"/><path d="M276.06 364.06A12.53 12.53 0 0 0 279.73 355.20L273.46 355.20A6.26 6.26 0 0 1 271.63 359.63Z" fill="#dbe5e9"/><path d="M280.49 368.49A18.79 18.79 0 0 0 285.99 355.20L279.73 355.20A12.53 12.53 0 0 1 276.06 364.06Z" fill="#dbe5e9"/><path d="M284.92 372.92A25.06 25.06 0 0 0 292.26 355.20L285.99 355.20A18.79 18.79 0 0 1 280.49 368.49Z" fill="#e4ebef"/><path d="M289.35 377.35A31.32 31.32 0 0 0 298.52 355.20L292.26 355.20A25.06 25.06 0 0 1 284.92 372.92Z" fill="#f8c5c1"/><path d="M293.78 381.78A37.59 37.59 0 0 0 304.79 355.20L298.52 355.20A31.32 31.32 0 0 1 289.35 377.35Z" fill="#f1a9a3"/><path d="M298.21 386.21A43.85 43.85 0 0 0 311.05 355.20L304.79 355.20A37.59 37.59 0 0 1 293.78 381.78Z" fill="#ce4347"/><path d="M279.73 355.20A12.53 12.53 0 0 0 276.06 346.34L271.63 350.77A6.26 6.26 0 0 1 273.46 355.20Z" fill="#dbe5e9"/><path d="M285.99 355.20A18.79 18.79 0 0 0 280.49 341.91L276.06 346.34A12.53 12.53 0 0 1 279.73 355.20Z" fill="#dbe5e9"/><path d="M292.26 355.20A25.06 25.06 0 0 0 284.92 337.48L280.49 341.91A18.79 18.79 0 0 1 285.99 355.20Z" fill="#e4ebef"/><path d="M298.52 355.20A31.32 31.32 0 0 0 289.35 333.05L284.92 337.48A25.06 25.06 0 0 1 292.26 355.20Z" fill="#f6f8f9"/><path d="M304.79 355.20A37.59 37.59 0 0 0 293.78 328.62L289.35 333.05A31.32 31.32 0 0 1 298.52 355.20Z" fill="#fcddda"/><path d="M311.05 355.20A43.85 43.85 0 0 0 298.21 324.19L293.78 328.62A37.59 37.59 0 0 1 304.79 355.20Z" fill="#ce4347"/><path d="M276.06 346.34A12.53 12.53 0 0 0 267.20 342.67L267.20 348.94A6.26 6.26 0 0 1 271.63 350.77Z" fill="#dbe5e9"/><path d="M280.49 341.91A18.79 18.79 0 0 0 267.20 336.41L267.20 342.67A12.53 12.53 0 0 1 276.06 346.34Z" fill="#d7e2e6"/><path d="M284.92 337.48A25.06 25.06 0 0 0 267.20 330.14L267.20 336.41A18.79 18.79 0 0 1 280.49 341.91Z" fill="#d7e2e6"/><path d="M289.35 333.05A31.32 31.32 0 0 0 267.20 323.88L267.20 330.14A25.06 25.06 0 0 1 284.92 337.48Z" fill="#dbe5e9"/><path d="M293.78 328.62A37.59 37.59 0 0 0 267.20 317.61L267.20 323.88A31.32 31.32 0 0 1 289.35 333.05Z" fill="#d7e2e6"/><path d="M298.21 324.19A43.85 43.85 0 0 0 267.20 311.35L267.20 317.61A37.59 37.59 0 0 1 293.78 328.62Z" fill="#e4ebef"/><path d="M53.86 475.12A12.53 12.53 0 0 0 45.00 478.79L49.43 483.22A6.26 6.26 0 0 1 53.86 481.39Z" fill="#d3dee4"/><path d="M53.86 468.86A18.79 18.79 0 0 0 40.57 474.36L45.00 478.79A12.53 12.53 0 0 1 53.86 475.12Z" fill="#c1d2d9"/><path d="M53.86 462.59A25.06 25.06 0 0 0 36.14 469.93L40.57 474.36A18.79 18.79 0 0 1 53.86 468.86Z" fill="#b8cbd3"/><path d="M53.86 456.33A31.32 31.32 0 0 0 31.71 465.50L36.14 469.93A25.06 25.06 0 0 1 53.86 462.59Z" fill="#d3dee4"/><path d="M53.86 450.06A37.59 37.59 0 0 0 27.28 461.07L31.71 465.50A31.32 31.32 0 0 1 53.86 456.33Z" fill="#c1d2d9"/><path d="M53.86 443.80A43.85 43.85 0 0 0 22.85 456.64L27.28 461.07A37.59 37.59 0 0 1 53.86 450.06Z" fill="#f6f8f9"/><path d="M45.00 478.79A12.53 12.53 0 0 0 41.33 487.65L47.60 487.65A6.26 6.26 0 0 1 49.43 483.22Z" fill="#dbe5e9"/><path d="M40.57 474.36A18.79 18.79 0 0 0 35.07 487.65L41.33 487.65A12.53 12.53 0 0 1 45.00 478.79Z" fill="#b8cbd3"/><path d="M36.14 469.93A25.06 25.06 0 0 0 28.80 487.65L35.07 487.65A18.79 18.79 0 0 1 40.57 474.36Z" fill="#b8cbd3"/><path d="M31.71 465.50A31.32 31.32 0 0 0 22.54 487.65L28.80 487.65A25.06 25.06 0 0 1 36.14 469.93Z" fill="#d3dee4"/><path d="M27.28 461.07A37.59 37.59 0 0 0 16.27 487.65L22.54 487.65A31.32 31.32 0 0 1 31.71 465.50Z" fill="#d3dee4"/><path d="M22.85 456.64A43.85 43.85 0 0 0 10.01 487.65L16.27 487.65A37.59 37.59 0 0 1 27.28 461.07Z" fill="#facfcb"/><path d="M41.33 487.65A12.53 12.53 0 0 0 45.00 496.51L49.43 492.08A6.26 6.26 0 0 1 47.60 487.65Z" fill="#d3dee4"/><path d="M35.07 487.65A18.79 18.79 0 0 0 40.57 500.94L45.00 496.51A12.53 12.53 0 0 1 41.33 487.65Z" fill="#dbe5e9"/><path d="M28.80 487.65A25.06 25.06 0 0 0 36.14 505.37L40.57 500.94A18.79 18.79 0 0 1 35.07 487.65Z" fill="#f6f8f9"/><path d="M22.54 487.65A31.32 31.32 0 0 0 31.71 509.80L36.14 505.37A25.06 25.06 0 0 1 28.80 487.65Z" fill="#fbd8d5"/><path d="M16.27 487.65A37.59 37.59 0 0 0 27.28 514.23L31.71 509.80A31.32 31.32 0 0 1 22.54 487.65Z" fill="#feecea"/><path d="M10.01 487.65A43.85 43.85 0 0 0 22.85 518.66L27.28 514.23A37.59 37.59 0 0 1 16.27 487.65Z" fill="#f3b2ad"/><path d="M45.00 496.51A12.53 12.53 0 0 0 53.86 500.18L53.86 493.91A6.26 6.26 0 0 1 49.43 492.08Z" fill="#dbe5e9"/><path d="M40.57 500.94A18.79 18.79 0 0 0 53.86 506.44L53.86 500.18A12.53 12.53 0 0 1 45.00 496.51Z" fill="#b8cbd3"/><path d="M36.14 505.37A25.06 25.06 0 0 0 53.86 512.71L53.86 506.44A18.79 18.79 0 0 1 40.57 500.94Z" fill="#ffffff"/><path d="M31.71 509.80A31.32 31.32 0 0 0 53.86 518.97L53.86 512.71A25.06 25.06 0 0 1 36.14 505.37Z" fill="#ffffff"/><path d="M27.28 514.23A37.59 37.59 0 0 0 53.86 525.24L53.86 518.97A31.32 31.32 0 0 1 31.71 509.80Z" fill="#feecea"/><path d="M22.85 518.66A43.85 43.85 0 0 0 53.86 531.50L53.86 525.24A37.59 37.59 0 0 1 27.28 514.23Z" fill="#facfcb"/><path d="M53.86 500.18A12.53 12.53 0 0 0 62.72 496.51L58.29 492.08A6.26 6.26 0 0 1 53.86 493.91Z" fill="#fce2e0"/><path d="M53.86 506.44A18.79 18.79 0 0 0 67.15 500.94L62.72 496.51A12.53 12.53 0 0 1 53.86 500.18Z" fill="#fbd8d5"/><path d="M53.86 512.71A25.06 25.06 0 0 0 71.58 505.37L67.15 500.94A18.79 18.79 0 0 1 53.86 506.44Z" fill="#f6bcb7"/><path d="M53.86 518.97A31.32 31.32 0 0 0 76.01 509.80L71.58 505.37A25.06 25.06 0 0 1 53.86 512.71Z" fill="#ee9f9a"/><path d="M53.86 525.24A37.59 37.59 0 0 0 80.44 514.23L76.01 509.80A31.32 31.32 0 0 1 53.86 518.97Z" fill="#d24e50"/><path d="M53.86 531.50A43.85 43.85 0 0 0 84.87 518.66L80.44 514.23A37.59 37.59 0 0 1 53.86 525.24Z" fill="#ce4347"/><path d="M62.72 496.51A12.53 12.53 0 0 0 66.39 487.65L60.12 487.65A6.26 6.26 0 0 1 58.29 492.08Z" fill="#f6f8f9"/><path d="M67.15 500.94A18.79 18.79 0 0 0 72.65 487.65L66.39 487.65A12.53 12.53 0 0 1 62.72 496.51Z" fill="#edf2f4"/><path d="M71.58 505.37A25.06 25.06 0 0 0 78.92 487.65L72.65 487.65A18.79 18.79 0 0 1 67.15 500.94Z" fill="#e4ebef"/><path d="M76.01 509.80A31.32 31.32 0 0 0 85.18 487.65L78.92 487.65A25.06 25.06 0 0 1 71.58 505.37Z" fill="#fbd8d5"/><path d="M80.44 514.23A37.59 37.59 0 0 0 91.45 487.65L85.18 487.65A31.32 31.32 0 0 1 76.01 509.80Z" fill="#feecea"/><path d="M84.87 518.66A43.85 43.85 0 0 0 97.71 487.65L91.45 487.65A37.59 37.59 0 0 1 80.44 514.23Z" fill="#ce4347"/><path d="M66.39 487.65A12.53 12.53 0 0 0 62.72 478.79L58.29 483.22A6.26 6.26 0 0 1 60.12 487.65Z" fill="#cad8de"/><path d="M72.65 487.65A18.79 18.79 0 0 0 67.15 474.36L62.72 478.79A12.53 12.53 0 0 1 66.39 487.65Z" fill="#d3dee4"/><path d="M78.92 487.65A25.06 25.06 0 0 0 71.58 469.93L67.15 474.36A18.79 18.79 0 0 1 72.65 487.65Z" fill="#feecea"/><path d="M85.18 487.65A31.32 31.32 0 0 0 76.01 465.50L71.58 469.93A25.06 25.06 0 0 1 78.92 487.65Z" fill="#fce2e0"/><path d="M91.45 487.65A37.59 37.59 0 0 0 80.44 461.07L76.01 465.50A31.32 31.32 0 0 1 85.18 487.65Z" fill="#f2f5f7"/><path d="M97.71 487.65A43.85 43.85 0 0 0 84.87 456.64L80.44 461.07A37.59 37.59 0 0 1 91.45 487.65Z" fill="#ce4347"/><path d="M62.72 478.79A12.53 12.53 0 0 0 53.86 475.12L53.86 481.39A6.26 6.26 0 0 1 58.29 483.22Z" fill="#a7bfc9"/><path d="M67.15 474.36A18.79 18.79 0 0 0 53.86 468.86L53.86 475.12A12.53 12.53 0 0 1 62.72 478.79Z" fill="#b8cbd3"/><path d="M71.58 469.93A25.06 25.06 0 0 0 53.86 462.59L53.86 468.86A18.79 18.79 0 0 1 67.15 474.36Z" fill="#a7bfc9"/><path d="M76.01 465.50A31.32 31.32 0 0 0 53.86 456.33L53.86 462.59A25.06 25.06 0 0 1 71.58 469.93Z" fill="#afc5ce"/><path d="M80.44 461.07A37.59 37.59 0 0 0 53.86 450.06L53.86 456.33A31.32 31.32 0 0 1 76.01 465.50Z" fill="#dbe5e9"/><path d="M84.87 456.64A43.85 43.85 0 0 0 53.86 443.80L53.86 450.06A37.59 37.59 0 0 1 80.44 461.07Z" fill="#fce2e0"/><path d="M160.30 475.12A12.53 12.53 0 0 0 151.44 478.79L155.87 483.22A6.26 6.26 0 0 1 160.30 481.39Z" fill="#e5827d"/><path d="M160.30 468.86A18.79 18.79 0 0 0 147.01 474.36L151.44 478.79A12.53 12.53 0 0 1 160.30 475.12Z" fill="#fce2e0"/><path d="M160.30 462.59A25.06 25.06 0 0 0 142.58 469.93L147.01 474.36A18.79 18.79 0 0 1 160.30 468.86Z" fill="#f8c5c1"/><path d="M160.30 456.33A31.32 31.32 0 0 0 138.15 465.50L142.58 469.93A25.06 25.06 0 0 1 160.30 462.59Z" fill="#f8c5c1"/><path d="M160.30 450.06A37.59 37.59 0 0 0 133.72 461.07L138.15 465.50A31.32 31.32 0 0 1 160.30 456.33Z" fill="#dbe5e9"/><path d="M160.30 443.80A43.85 43.85 0 0 0 129.29 456.64L133.72 461.07A37.59 37.59 0 0 1 160.30 450.06Z" fill="#e5827d"/><path d="M151.44 478.79A12.53 12.53 0 0 0 147.77 487.65L154.04 487.65A6.26 6.26 0 0 1 155.87 483.22Z" fill="#facfcb"/><path d="M147.01 474.36A18.79 18.79 0 0 0 141.51 487.65L147.77 487.65A12.53 12.53 0 0 1 151.44 478.79Z" fill="#fce2e0"/><path d="M142.58 469.93A25.06 25.06 0 0 0 135.24 487.65L141.51 487.65A18.79 18.79 0 0 1 147.01 474.36Z" fill="#feecea"/><path d="M138.15 465.50A31.32 31.32 0 0 0 128.98 487.65L135.24 487.65A25.06 25.06 0 0 1 142.58 469.93Z" fill="#fffafa"/><path d="M133.72 461.07A37.59 37.59 0 0 0 122.71 487.65L128.98 487.65A31.32 31.32 0 0 1 138.15 465.50Z" fill="#afc5ce"/><path d="M129.29 456.64A43.85 43.85 0 0 0 116.45 487.65L122.71 487.65A37.59 37.59 0 0 1 133.72 461.07Z" fill="#e5827d"/><path d="M147.77 487.65A12.53 12.53 0 0 0 151.44 496.51L155.87 492.08A6.26 6.26 0 0 1 154.04 487.65Z" fill="#de6e6b"/><path d="M141.51 487.65A18.79 18.79 0 0 0 147.01 500.94L151.44 496.51A12.53 12.53 0 0 1 147.77 487.65Z" fill="#ffffff"/><path d="M135.24 487.65A25.06 25.06 0 0 0 142.58 505.37L147.01 500.94A18.79 18.79 0 0 1 141.51 487.65Z" fill="#fbd8d5"/><path d="M128.98 487.65A31.32 31.32 0 0 0 138.15 509.80L142.58 505.37A25.06 25.06 0 0 1 135.24 487.65Z" fill="#f3b2ad"/><path d="M122.71 487.65A37.59 37.59 0 0 0 133.72 514.23L138.15 509.80A31.32 31.32 0 0 1 128.98 487.65Z" fill="#f6f8f9"/><path d="M116.45 487.65A43.85 43.85 0 0 0 129.29 518.66L133.72 514.23A37.59 37.59 0 0 1 122.71 487.65Z" fill="#e27874"/><path d="M151.44 496.51A12.53 12.53 0 0 0 160.30 500.18L160.30 493.91A6.26 6.26 0 0 1 155.87 492.08Z" fill="#e5827d"/><path d="M147.01 500.94A18.79 18.79 0 0 0 160.30 506.44L160.30 500.18A12.53 12.53 0 0 1 151.44 496.51Z" fill="#facfcb"/><path d="M142.58 505.37A25.06 25.06 0 0 0 160.30 512.71L160.30 506.44A18.79 18.79 0 0 1 147.01 500.94Z" fill="#fbd8d5"/><path d="M138.15 509.80A31.32 31.32 0 0 0 160.30 518.97L160.30 512.71A25.06 25.06 0 0 1 142.58 505.37Z" fill="#ee9f9a"/><path d="M133.72 514.23A37.59 37.59 0 0 0 160.30 525.24L160.30 518.97A31.32 31.32 0 0 1 138.15 509.80Z" fill="#e4ebef"/><path d="M129.29 518.66A43.85 43.85 0 0 0 160.30 531.50L160.30 525.24A37.59 37.59 0 0 1 133.72 514.23Z" fill="#f1a9a3"/><path d="M160.30 500.18A12.53 12.53 0 0 0 169.16 496.51L164.73 492.08A6.26 6.26 0 0 1 160.30 493.91Z" fill="#facfcb"/><path d="M160.30 506.44A18.79 18.79 0 0 0 173.59 500.94L169.16 496.51A12.53 12.53 0 0 1 160.30 500.18Z" fill="#e4ebef"/><path d="M160.30 512.71A25.06 25.06 0 0 0 178.02 505.37L173.59 500.94A18.79 18.79 0 0 1 160.30 506.44Z" fill="#ffffff"/><path d="M160.30 518.97A31.32 31.32 0 0 0 182.45 509.80L178.02 505.37A25.06 25.06 0 0 1 160.30 512.71Z" fill="#fbfcfc"/><path d="M160.30 525.24A37.59 37.59 0 0 0 186.88 514.23L182.45 509.80A31.32 31.32 0 0 1 160.30 518.97Z" fill="#d3dee4"/><path d="M160.30 531.50A43.85 43.85 0 0 0 191.31 518.66L186.88 514.23A37.59 37.59 0 0 1 160.30 525.24Z" fill="#e88c86"/><path d="M169.16 496.51A12.53 12.53 0 0 0 172.83 487.65L166.56 487.65A6.26 6.26 0 0 1 164.73 492.08Z" fill="#fbd8d5"/><path d="M173.59 500.94A18.79 18.79 0 0 0 179.09 487.65L172.83 487.65A12.53 12.53 0 0 1 169.16 496.51Z" fill="#e4ebef"/><path d="M178.02 505.37A25.06 25.06 0 0 0 185.36 487.65L179.09 487.65A18.79 18.79 0 0 1 173.59 500.94Z" fill="#95b2be"/><path d="M182.45 509.80A31.32 31.32 0 0 0 191.62 487.65L185.36 487.65A25.06 25.06 0 0 1 178.02 505.37Z" fill="#a7bfc9"/><path d="M186.88 514.23A37.59 37.59 0 0 0 197.89 487.65L191.62 487.65A31.32 31.32 0 0 1 182.45 509.80Z" fill="#6994a4"/><path d="M191.31 518.66A43.85 43.85 0 0 0 204.15 487.65L197.89 487.65A37.59 37.59 0 0 1 186.88 514.23Z" fill="#fef0ef"/><path d="M172.83 487.65A12.53 12.53 0 0 0 169.16 478.79L164.73 483.22A6.26 6.26 0 0 1 166.56 487.65Z" fill="#feecea"/><path d="M179.09 487.65A18.79 18.79 0 0 0 173.59 474.36L169.16 478.79A12.53 12.53 0 0 1 172.83 487.65Z" fill="#8dacb9"/><path d="M185.36 487.65A25.06 25.06 0 0 0 178.02 469.93L173.59 474.36A18.79 18.79 0 0 1 179.09 487.65Z" fill="#e4ebef"/><path d="M191.62 487.65A31.32 31.32 0 0 0 182.45 465.50L178.02 469.93A25.06 25.06 0 0 1 185.36 487.65Z" fill="#edf2f4"/><path d="M197.89 487.65A37.59 37.59 0 0 0 186.88 461.07L182.45 465.50A31.32 31.32 0 0 1 191.62 487.65Z" fill="#9eb8c3"/><path d="M204.15 487.65A43.85 43.85 0 0 0 191.31 456.64L186.88 461.07A37.59 37.59 0 0 1 197.89 487.65Z" fill="#fbd8d5"/><path d="M169.16 478.79A12.53 12.53 0 0 0 160.30 475.12L160.30 481.39A6.26 6.26 0 0 1 164.73 483.22Z" fill="#e4ebef"/><path d="M173.59 474.36A18.79 18.79 0 0 0 160.30 468.86L160.30 475.12A12.53 12.53 0 0 1 169.16 478.79Z" fill="#edf2f4"/><path d="M178.02 469.93A25.06 25.06 0 0 0 160.30 462.59L160.30 468.86A18.79 18.79 0 0 1 173.59 474.36Z" fill="#e4ebef"/><path d="M182.45 465.50A31.32 31.32 0 0 0 160.30 456.33L160.30 462.59A25.06 25.06 0 0 1 178.02 469.93Z" fill="#d3dee4"/><path d="M186.88 461.07A37.59 37.59 0 0 0 160.30 450.06L160.30 456.33A31.32 31.32 0 0 1 182.45 465.50Z" fill="#729aa9"/><path d="M191.31 456.64A43.85 43.85 0 0 0 160.30 443.80L160.30 450.06A37.59 37.59 0 0 1 186.88 461.07Z" fill="#afc5ce"/><path d="M267.20 475.12A12.53 12.53 0 0 0 258.34 478.79L262.77 483.22A6.26 6.26 0 0 1 267.20 481.39Z" fill="#b8cbd3"/><path d="M267.20 468.86A18.79 18.79 0 0 0 253.91 474.36L258.34 478.79A12.53 12.53 0 0 1 267.20 475.12Z" fill="#cad8de"/><path d="M267.20 462.59A25.06 25.06 0 0 0 249.48 469.93L253.91 474.36A18.79 18.79 0 0 1 267.20 468.86Z" fill="#b8cbd3"/><path d="M267.20 456.33A31.32 31.32 0 0 0 245.05 465.50L249.48 469.93A25.06 25.06 0 0 1 267.20 462.59Z" fill="#a7bfc9"/><path d="M267.20 450.06A37.59 37.59 0 0 0 240.62 461.07L245.05 465.50A31.32 31.32 0 0 1 267.20 456.33Z" fill="#b8cbd3"/><path d="M267.20 443.80A43.85 43.85 0 0 0 236.19 456.64L240.62 461.07A37.59 37.59 0 0 1 267.20 450.06Z" fill="#f6f8f9"/><path d="M258.34 478.79A12.53 12.53 0 0 0 254.67 487.65L260.94 487.65A6.26 6.26 0 0 1 262.77 483.22Z" fill="#a7bfc9"/><path d="M253.91 474.36A18.79 18.79 0 0 0 248.41 487.65L254.67 487.65A12.53 12.53 0 0 1 258.34 478.79Z" fill="#dbe5e9"/><path d="M249.48 469.93A25.06 25.06 0 0 0 242.14 487.65L248.41 487.65A18.79 18.79 0 0 1 253.91 474.36Z" fill="#b8cbd3"/><path d="M245.05 465.50A31.32 31.32 0 0 0 235.88 487.65L242.14 487.65A25.06 25.06 0 0 1 249.48 469.93Z" fill="#afc5ce"/><path d="M240.62 461.07A37.59 37.59 0 0 0 229.61 487.65L235.88 487.65A31.32 31.32 0 0 1 245.05 465.50Z" fill="#afc5ce"/><path d="M236.19 456.64A43.85 43.85 0 0 0 223.35 487.65L229.61 487.65A37.59 37.59 0 0 1 240.62 461.07Z" fill="#f6f8f9"/><path d="M254.67 487.65A12.53 12.53 0 0 0 258.34 496.51L262.77 492.08A6.26 6.26 0 0 1 260.94 487.65Z" fill="#fce2e0"/><path d="M248.41 487.65A18.79 18.79 0 0 0 253.91 500.94L258.34 496.51A12.53 12.53 0 0 1 254.67 487.65Z" fill="#f3b2ad"/><path d="M242.14 487.65A25.06 25.06 0 0 0 249.48 505.37L253.91 500.94A18.79 18.79 0 0 1 248.41 487.65Z" fill="#edf2f4"/><path d="M235.88 487.65A31.32 31.32 0 0 0 245.05 509.80L249.48 505.37A25.06 25.06 0 0 1 242.14 487.65Z" fill="#d3dee4"/><path d="M229.61 487.65A37.59 37.59 0 0 0 240.62 514.23L245.05 509.80A31.32 31.32 0 0 1 235.88 487.65Z" fill="#fef5f4"/><path d="M223.35 487.65A43.85 43.85 0 0 0 236.19 518.66L240.62 514.23A37.59 37.59 0 0 1 229.61 487.65Z" fill="#f1a9a3"/><path d="M258.34 496.51A12.53 12.53 0 0 0 267.20 500.18L267.20 493.91A6.26 6.26 0 0 1 262.77 492.08Z" fill="#fce2e0"/><path d="M253.91 500.94A18.79 18.79 0 0 0 267.20 506.44L267.20 500.18A12.53 12.53 0 0 1 258.34 496.51Z" fill="#feecea"/><path d="M249.48 505.37A25.06 25.06 0 0 0 267.20 512.71L267.20 506.44A18.79 18.79 0 0 1 253.91 500.94Z" fill="#f6f8f9"/><path d="M245.05 509.80A31.32 31.32 0 0 0 267.20 518.97L267.20 512.71A25.06 25.06 0 0 1 249.48 505.37Z" fill="#e4ebef"/><path d="M240.62 514.23A37.59 37.59 0 0 0 267.20 525.24L267.20 518.97A31.32 31.32 0 0 1 245.05 509.80Z" fill="#fbd8d5"/><path d="M236.19 518.66A43.85 43.85 0 0 0 267.20 531.50L267.20 525.24A37.59 37.59 0 0 1 240.62 514.23Z" fill="#de6e6b"/><path d="M267.20 500.18A12.53 12.53 0 0 0 276.06 496.51L271.63 492.08A6.26 6.26 0 0 1 267.20 493.91Z" fill="#ce4347"/><path d="M267.20 506.44A18.79 18.79 0 0 0 280.49 500.94L276.06 496.51A12.53 12.53 0 0 1 267.20 500.18Z" fill="#d24e50"/><path d="M267.20 512.71A25.06 25.06 0 0 0 284.92 505.37L280.49 500.94A18.79 18.79 0 0 1 267.20 506.44Z" fill="#f3b2ad"/><path d="M267.20 518.97A31.32 31.32 0 0 0 289.35 509.80L284.92 505.37A25.06 25.06 0 0 1 267.20 512.71Z" fill="#facfcb"/><path d="M267.20 525.24A37.59 37.59 0 0 0 293.78 514.23L289.35 509.80A31.32 31.32 0 0 1 267.20 518.97Z" fill="#fbd8d5"/><path d="M267.20 531.50A43.85 43.85 0 0 0 298.21 518.66L293.78 514.23A37.59 37.59 0 0 1 267.20 525.24Z" fill="#e27874"/><path d="M276.06 496.51A12.53 12.53 0 0 0 279.73 487.65L273.46 487.65A6.26 6.26 0 0 1 271.63 492.08Z" fill="#fbd8d5"/><path d="M280.49 500.94A18.79 18.79 0 0 0 285.99 487.65L279.73 487.65A12.53 12.53 0 0 1 276.06 496.51Z" fill="#e27874"/><path d="M284.92 505.37A25.06 25.06 0 0 0 292.26 487.65L285.99 487.65A18.79 18.79 0 0 1 280.49 500.94Z" fill="#cad8de"/><path d="M289.35 509.80A31.32 31.32 0 0 0 298.52 487.65L292.26 487.65A25.06 25.06 0 0 1 284.92 505.37Z" fill="#c1d2d9"/><path d="M293.78 514.23A37.59 37.59 0 0 0 304.79 487.65L298.52 487.65A31.32 31.32 0 0 1 289.35 509.80Z" fill="#a7bfc9"/><path d="M298.21 518.66A43.85 43.85 0 0 0 311.05 487.65L304.79 487.65A37.59 37.59 0 0 1 293.78 514.23Z" fill="#fbd8d5"/><path d="M279.73 487.65A12.53 12.53 0 0 0 276.06 478.79L271.63 483.22A6.26 6.26 0 0 1 273.46 487.65Z" fill="#f6bcb7"/><path d="M285.99 487.65A18.79 18.79 0 0 0 280.49 474.36L276.06 478.79A12.53 12.53 0 0 1 279.73 487.65Z" fill="#de6e6b"/><path d="M292.26 487.65A25.06 25.06 0 0 0 284.92 469.93L280.49 474.36A18.79 18.79 0 0 1 285.99 487.65Z" fill="#f6f8f9"/><path d="M298.52 487.65A31.32 31.32 0 0 0 289.35 465.50L284.92 469.93A25.06 25.06 0 0 1 292.26 487.65Z" fill="#feecea"/><path d="M304.79 487.65A37.59 37.59 0 0 0 293.78 461.07L289.35 465.50A31.32 31.32 0 0 1 298.52 487.65Z" fill="#b8cbd3"/><path d="M311.05 487.65A43.85 43.85 0 0 0 298.21 456.64L293.78 461.07A37.59 37.59 0 0 1 304.79 487.65Z" fill="#f3b2ad"/><path d="M276.06 478.79A12.53 12.53 0 0 0 267.20 475.12L267.20 481.39A6.26 6.26 0 0 1 271.63 483.22Z" fill="#c1d2d9"/><path d="M280.49 474.36A18.79 18.79 0 0 0 267.20 468.86L267.20 475.12A12.53 12.53 0 0 1 276.06 478.79Z" fill="#dbe5e9"/><path d="M284.92 469.93A25.06 25.06 0 0 0 267.20 462.59L267.20 468.86A18.79 18.79 0 0 1 280.49 474.36Z" fill="#cad8de"/><path d="M289.35 465.50A31.32 31.32 0 0 0 267.20 456.33L267.20 462.59A25.06 25.06 0 0 1 284.92 469.93Z" fill="#d3dee4"/><path d="M293.78 461.07A37.59 37.59 0 0 0 267.20 450.06L267.20 456.33A31.32 31.32 0 0 1 289.35 465.50Z" fill="#f6f8f9"/><path d="M298.21 456.64A43.85 43.85 0 0 0 267.20 443.80L267.20 450.06A37.59 37.59 0 0 1 293.78 461.07Z" fill="#fbd8d5"/></g>
<rect x="324.9" y="349.8" width="12.3" height="60.6" fill="url(#cb2)"/>
<g font-family='"Liberation Sans", sans-serif' font-size="9.4" fill="#1a1a1a"><text x="325.4" y="328.3" font-size="9.8">Normalized</text><text x="325.4" y="338.2" font-size="9.8">avg. expr.</text><text x="340.8" y="352.5">2</text><text x="340.8" y="367.3">1</text><text x="340.8" y="382.5">0</text><text x="340.8" y="397.8">−1</text><text x="340.8" y="412.7">−2</text><text x="325.8" y="448.5">Sample</text></g>
<g font-family='"Liberation Sans", sans-serif' font-size="7.6" fill="#1a1a1a"><text x="330.8" y="462.2">PCW9</text><text x="346.6" y="488">PCW17</text></g>
<g stroke="#fff" stroke-width="0.8"><path d="M326.90 469.37A12.67 12.67 0 0 0 333.23 467.67L330.40 462.76A7.00 7.00 0 0 1 326.90 463.70Z" fill="#c9c9c9"/><path d="M326.90 475.04A18.34 18.34 0 0 0 336.07 472.58L333.23 467.67A12.67 12.67 0 0 1 326.90 469.37Z" fill="#c9c9c9"/><path d="M326.90 480.71A24.01 24.01 0 0 0 338.90 477.49L336.07 472.58A18.34 18.34 0 0 1 326.90 475.04Z" fill="#c9c9c9"/><path d="M326.90 486.38A29.68 29.68 0 0 0 341.74 482.40L338.90 477.49A24.01 24.01 0 0 1 326.90 480.71Z" fill="#c9c9c9"/><path d="M326.90 492.05A35.35 35.35 0 0 0 344.57 487.31L341.74 482.40A29.68 29.68 0 0 1 326.90 486.38Z" fill="#c9c9c9"/><path d="M326.90 497.72A41.02 41.02 0 0 0 347.41 492.22L344.57 487.31A35.35 35.35 0 0 1 326.90 492.05Z" fill="#c9c9c9"/></g>
<line x1="347.2" y1="465.2" x2="354.0" y2="475.5" stroke="#bdbdbd" stroke-width="1"/><path d="M356.2 478.8 L351.6 475.2 L355.2 473.2 Z" fill="#bdbdbd"/>
<text x="388.0" y="276.3" font-family='"Liberation Sans", sans-serif' font-weight="bold" font-size="13" fill="#111">c</text>
<text transform="translate(400.2,410.6) rotate(-90)" text-anchor="middle" font-family='"Liberation Sans", sans-serif' font-size="9.7" fill="#1a1a1a">Average expression</text>
<rect x="427.5" y="302.60" width="94.6" height="54.2" fill="#fff"/>
<g stroke="#ebebeb" stroke-width="0.8"><line x1="436.70" y1="302.60" x2="436.70" y2="356.80"/><line x1="451.94" y1="302.60" x2="451.94" y2="356.80"/><line x1="467.18" y1="302.60" x2="467.18" y2="356.80"/><line x1="482.42" y1="302.60" x2="482.42" y2="356.80"/><line x1="497.66" y1="302.60" x2="497.66" y2="356.80"/><line x1="512.90" y1="302.60" x2="512.90" y2="356.80"/><line x1="427.5" y1="312.20" x2="522.1" y2="312.20"/><line x1="427.5" y1="323.40" x2="522.1" y2="323.40"/><line x1="427.5" y1="334.60" x2="522.1" y2="334.60"/><line x1="427.5" y1="345.80" x2="522.1" y2="345.80"/></g>
<clipPath id="clVEGFA"><rect x="427.5" y="302.60" width="94.6" height="54.2"/></clipPath>
<g clip-path="url(#clVEGFA)" fill="none" stroke-width="0.9"><polyline points="436.70,350.65 437.97,350.53 439.24,350.40 440.51,350.28 441.78,350.16 443.05,350.03 444.32,349.91 445.59,349.78 446.86,349.66 448.13,349.53 449.40,349.41 450.67,349.28 451.94,349.16 453.21,349.04 454.48,348.91 455.75,348.79 457.02,348.66 458.29,348.54 459.56,348.41 460.83,348.29 462.10,348.16 463.37,348.04 464.64,347.92 465.91,347.79 467.18,347.67 468.45,347.54 469.72,347.42 470.99,347.29 472.26,347.17 473.53,347.04 474.80,346.92 476.07,346.80 477.34,346.67 478.61,346.55 479.88,346.42 481.15,346.30 482.42,346.17 483.69,346.05 484.96,345.93 486.23,345.81 487.50,345.69 488.77,345.57 490.04,345.45 491.31,345.33 492.58,345.21 493.85,345.08 495.12,344.95 496.39,344.82 497.66,344.68 498.93,344.54 500.20,344.39 501.47,344.24 502.74,344.09 504.01,343.93 505.28,343.77 506.55,343.61 507.82,343.45 509.09,343.29 510.36,343.13 511.63,342.97 512.90,342.81" stroke="#4a4c97"/><polyline points="436.70,350.65 437.97,350.65 439.24,350.66 440.51,350.66 441.78,350.67 443.05,350.67 444.32,350.68 445.59,350.68 446.86,350.68 448.13,350.68 449.40,350.67 450.67,350.67 451.94,350.65 453.21,350.64 454.48,350.62 455.75,350.59 457.02,350.57 458.29,350.54 459.56,350.51 460.83,350.48 462.10,350.45 463.37,350.41 464.64,350.37 465.91,350.32 467.18,350.28 468.45,350.24 469.72,350.19 470.99,350.15 472.26,350.11 473.53,350.07 474.80,350.02 476.07,349.97 477.34,349.91 478.61,349.83 479.88,349.75 481.15,349.65 482.42,349.53 483.69,349.40 484.96,349.27 486.23,349.12 487.50,348.97 488.77,348.80 490.04,348.62 491.31,348.43 492.58,348.23 493.85,348.02 495.12,347.79 496.39,347.55 497.66,347.29 498.93,347.02 500.20,346.72 501.47,346.40 502.74,346.06 504.01,345.71 505.28,345.36 506.55,344.99 507.82,344.62 509.09,344.26 510.36,343.89 511.63,343.54 512.90,343.19" stroke="#5679ab"/><polyline points="436.70,344.68 437.97,344.15 439.24,343.61 440.51,343.08 441.78,342.54 443.05,342.00 444.32,341.46 445.59,340.93 446.86,340.39 448.13,339.87 449.40,339.35 450.67,338.84 451.94,338.33 453.21,337.84 454.48,337.34 455.75,336.85 457.02,336.36 458.29,335.87 459.56,335.39 460.83,334.92 462.10,334.46 463.37,334.01 464.64,333.57 465.91,333.15 467.18,332.73 468.45,332.34 469.72,331.96 470.99,331.59 472.26,331.23 473.53,330.88 474.80,330.54 476.07,330.21 477.34,329.89 478.61,329.57 479.88,329.25 481.15,328.94 482.42,328.63 483.69,328.33 484.96,328.04 486.23,327.76 487.50,327.49 488.77,327.23 490.04,326.97 491.31,326.71 492.58,326.44 493.85,326.17 495.12,325.88 496.39,325.59 497.66,325.27 498.93,324.93 500.20,324.59 501.47,324.23 502.74,323.86 504.01,323.48 505.28,323.10 506.55,322.71 507.82,322.32 509.09,321.94 510.36,321.55 511.63,321.17 512.90,320.79" stroke="#6bb0d6"/><polyline points="436.70,347.67 437.97,347.52 439.24,347.38 440.51,347.24 441.78,347.11 443.05,346.98 444.32,346.85 445.59,346.71 446.86,346.56 448.13,346.40 449.40,346.22 450.67,346.02 451.94,345.80 453.21,345.56 454.48,345.30 455.75,345.03 457.02,344.75 458.29,344.45 459.56,344.14 460.83,343.82 462.10,343.49 463.37,343.15 464.64,342.80 465.91,342.44 467.18,342.07 468.45,341.69 469.72,341.30 470.99,340.90 472.26,340.49 473.53,340.07 474.80,339.64 476.07,339.20 477.34,338.75 478.61,338.29 479.88,337.82 481.15,337.33 482.42,336.84 483.69,336.34 484.96,335.83 486.23,335.31 487.50,334.78 488.77,334.24 490.04,333.69 491.31,333.13 492.58,332.55 493.85,331.97 495.12,331.37 496.39,330.75 497.66,330.12 498.93,329.47 500.20,328.80 501.47,328.11 502.74,327.40 504.01,326.68 505.28,325.95 506.55,325.21 507.82,324.47 509.09,323.73 510.36,322.99 511.63,322.26 512.90,321.54" stroke="#8c64a6"/><polyline points="436.70,345.80 437.97,345.36 439.24,344.93 440.51,344.49 441.78,344.06 443.05,343.62 444.32,343.19 445.59,342.75 446.86,342.32 448.13,341.88 449.40,341.44 450.67,341.01 451.94,340.57 453.21,340.14 454.48,339.70 455.75,339.27 457.02,338.83 458.29,338.40 459.56,337.96 460.83,337.53 462.10,337.09 463.37,336.65 464.64,336.22 465.91,335.78 467.18,335.35 468.45,334.91 469.72,334.47 470.99,334.03 472.26,333.59 473.53,333.15 474.80,332.71 476.07,332.27 477.34,331.84 478.61,331.40 479.88,330.97 481.15,330.54 482.42,330.12 483.69,329.71 484.96,329.31 486.23,328.93 487.50,328.55 488.77,328.17 490.04,327.79 491.31,327.40 492.58,327.01 493.85,326.60 495.12,326.18 496.39,325.74 497.66,325.27 498.93,324.77 500.20,324.26 501.47,323.72 502.74,323.17 504.01,322.60 505.28,322.03 506.55,321.44 507.82,320.86 509.09,320.27 510.36,319.69 511.63,319.11 512.90,318.55" stroke="#dccbe4"/><polyline points="436.70,351.40 437.97,351.19 439.24,350.99 440.51,350.80 441.78,350.61 443.05,350.42 444.32,350.23 445.59,350.03 446.86,349.82 448.13,349.60 449.40,349.35 450.67,349.08 451.94,348.79 453.21,348.47 454.48,348.14 455.75,347.80 457.02,347.45 458.29,347.07 459.56,346.69 460.83,346.28 462.10,345.86 463.37,345.41 464.64,344.94 465.91,344.45 467.18,343.93 468.45,343.40 469.72,342.84 470.99,342.27 472.26,341.68 473.53,341.07 474.80,340.43 476.07,339.78 477.34,339.09 478.61,338.39 479.88,337.65 481.15,336.89 482.42,336.09 483.69,335.27 484.96,334.43 486.23,333.57 487.50,332.68 488.77,331.76 490.04,330.82 491.31,329.85 492.58,328.85 493.85,327.82 495.12,326.75 496.39,325.65 497.66,324.52 498.93,323.34 500.20,322.11 501.47,320.82 502.74,319.50 504.01,318.15 505.28,316.78 506.55,315.39 507.82,313.99 509.09,312.59 510.36,311.20 511.63,309.82 512.90,308.47" stroke="#f2a7a9"/><polyline points="436.70,354.39 437.97,354.17 439.24,353.97 440.51,353.78 441.78,353.58 443.05,353.39 444.32,353.20 445.59,352.99 446.86,352.78 448.13,352.56 449.40,352.32 450.67,352.06 451.94,351.77 453.21,351.48 454.48,351.17 455.75,350.86 457.02,350.54 458.29,350.21 459.56,349.86 460.83,349.49 462.10,349.10 463.37,348.69 464.64,348.26 465.91,347.79 467.18,347.29 468.45,346.77 469.72,346.23 470.99,345.67 472.26,345.09 473.53,344.49 474.80,343.86 476.07,343.21 477.34,342.52 478.61,341.81 479.88,341.06 481.15,340.27 482.42,339.45 483.69,338.61 484.96,337.76 486.23,336.90 487.50,336.01 488.77,335.09 490.04,334.13 491.31,333.13 492.58,332.07 493.85,330.95 495.12,329.76 496.39,328.49 497.66,327.13 498.93,325.68 500.20,324.11 501.47,322.45 502.74,320.71 504.01,318.90 505.28,317.06 506.55,315.18 507.82,313.28 509.09,311.39 510.36,309.51 511.63,307.66 512.90,305.86" stroke="#d94a4f"/><polyline points="436.70,347.67 437.97,347.45 439.24,347.25 440.51,347.05 441.78,346.85 443.05,346.65 444.32,346.45 445.59,346.25 446.86,346.04 448.13,345.81 449.40,345.58 450.67,345.32 451.94,345.05 453.21,344.77 454.48,344.47 455.75,344.17 457.02,343.85 458.29,343.52 459.56,343.19 460.83,342.84 462.10,342.48 463.37,342.11 464.64,341.74 465.91,341.35 467.18,340.95 468.45,340.54 469.72,340.14 470.99,339.74 472.26,339.33 473.53,338.91 474.80,338.47 476.07,338.02 477.34,337.55 478.61,337.04 479.88,336.51 481.15,335.95 482.42,335.35 483.69,334.72 484.96,334.08 486.23,333.43 487.50,332.75 488.77,332.05 490.04,331.31 491.31,330.54 492.58,329.73 493.85,328.88 495.12,327.98 496.39,327.03 497.66,326.02 498.93,324.93 500.20,323.77 501.47,322.54 502.74,321.26 504.01,319.93 505.28,318.57 506.55,317.19 507.82,315.80 509.09,314.40 510.36,313.02 511.63,311.66 512.90,310.34" stroke="#a8262d"/></g>
<rect x="427.5" y="302.60" width="94.6" height="54.2" fill="none" stroke="#333" stroke-width="0.6"/>
<rect x="427.5" y="292.0" width="94.6" height="10.6" fill="#d9d9d9" stroke="#333" stroke-width="0.6"/>
<text x="474.80" y="300.60" text-anchor="middle" font-family='"Liberation Sans", sans-serif' font-style="italic" font-size="9.8" fill="#1a1a1a">VEGFA</text>
<g stroke="#333" stroke-width="0.6"><line x1="425.2" y1="312.20" x2="427.5" y2="312.20"/><line x1="425.2" y1="323.40" x2="427.5" y2="323.40"/><line x1="425.2" y1="334.60" x2="427.5" y2="334.60"/><line x1="425.2" y1="345.80" x2="427.5" y2="345.80"/><line x1="436.70" y1="356.80" x2="436.70" y2="359.10"/><line x1="451.94" y1="356.80" x2="451.94" y2="359.10"/><line x1="467.18" y1="356.80" x2="467.18" y2="359.10"/><line x1="482.42" y1="356.80" x2="482.42" y2="359.10"/><line x1="497.66" y1="356.80" x2="497.66" y2="359.10"/><line x1="512.90" y1="356.80" x2="512.90" y2="359.10"/></g>
<g font-family='"Liberation Sans", sans-serif' font-size="9.4" fill="#1a1a1a"><text x="424.1" y="315.20" text-anchor="end">1.5</text><text x="424.1" y="326.40" text-anchor="end">1.2</text><text x="424.1" y="337.60" text-anchor="end">0.9</text><text x="424.1" y="348.80" text-anchor="end">0.6</text></g>
<rect x="546.1" y="302.60" width="94.6" height="54.2" fill="#fff"/>
<g stroke="#ebebeb" stroke-width="0.8"><line x1="555.30" y1="302.60" x2="555.30" y2="356.80"/><line x1="570.54" y1="302.60" x2="570.54" y2="356.80"/><line x1="585.78" y1="302.60" x2="585.78" y2="356.80"/><line x1="601.02" y1="302.60" x2="601.02" y2="356.80"/><line x1="616.26" y1="302.60" x2="616.26" y2="356.80"/><line x1="631.50" y1="302.60" x2="631.50" y2="356.80"/><line x1="546.1" y1="304.70" x2="640.7" y2="304.70"/><line x1="546.1" y1="314.50" x2="640.7" y2="314.50"/><line x1="546.1" y1="324.30" x2="640.7" y2="324.30"/><line x1="546.1" y1="334.10" x2="640.7" y2="334.10"/><line x1="546.1" y1="343.90" x2="640.7" y2="343.90"/><line x1="546.1" y1="353.70" x2="640.7" y2="353.70"/></g>
<clipPath id="clPGF"><rect x="546.1" y="302.60" width="94.6" height="54.2"/></clipPath>
<g clip-path="url(#clPGF)" fill="none" stroke-width="0.9"><polyline points="555.30,343.41 556.57,343.41 557.84,343.42 559.11,343.42 560.38,343.43 561.65,343.43 562.92,343.44 564.19,343.44 565.46,343.45 566.73,343.44 568.00,343.44 569.27,343.43 570.54,343.41 571.81,343.39 573.08,343.36 574.35,343.33 575.62,343.30 576.89,343.27 578.16,343.23 579.43,343.18 580.70,343.14 581.97,343.09 583.24,343.04 584.51,342.98 585.78,342.92 587.05,342.86 588.32,342.80 589.59,342.73 590.86,342.67 592.13,342.60 593.40,342.52 594.67,342.44 595.94,342.36 597.21,342.27 598.48,342.17 599.75,342.06 601.02,341.94 602.29,341.81 603.56,341.68 604.83,341.54 606.10,341.40 607.37,341.24 608.64,341.08 609.91,340.92 611.18,340.74 612.45,340.56 613.72,340.37 614.99,340.18 616.26,339.98 617.53,339.77 618.80,339.55 620.07,339.31 621.34,339.07 622.61,338.82 623.88,338.57 625.15,338.31 626.42,338.06 627.69,337.80 628.96,337.54 630.23,337.29 631.50,337.04" stroke="#4a4c97"/><polyline points="555.30,353.70 556.57,352.37 557.84,350.99 559.11,349.58 560.38,348.16 561.65,346.74 562.92,345.34 564.19,343.96 565.46,342.63 566.73,341.35 568.00,340.15 569.27,339.04 570.54,338.02 571.81,337.09 573.08,336.22 574.35,335.41 575.62,334.66 576.89,333.97 578.16,333.33 579.43,332.75 580.70,332.23 581.97,331.76 583.24,331.34 584.51,330.98 585.78,330.67 587.05,330.42 588.32,330.24 589.59,330.11 590.86,330.05 592.13,330.05 593.40,330.09 594.67,330.18 595.94,330.31 597.21,330.47 598.48,330.68 599.75,330.91 601.02,331.16 602.29,331.46 603.56,331.81 604.83,332.21 606.10,332.65 607.37,333.13 608.64,333.64 609.91,334.18 611.18,334.74 612.45,335.31 613.72,335.88 614.99,336.46 616.26,337.04 617.53,337.62 618.80,338.23 620.07,338.86 621.34,339.51 622.61,340.17 623.88,340.84 625.15,341.51 626.42,342.19 627.69,342.87 628.96,343.55 630.23,344.22 631.50,344.88" stroke="#5679ab"/><polyline points="555.30,305.68 556.57,306.17 557.84,306.67 559.11,307.17 560.38,307.68 561.65,308.18 562.92,308.68 564.19,309.18 565.46,309.67 566.73,310.16 568.00,310.64 569.27,311.10 570.54,311.56 571.81,312.01 573.08,312.46 574.35,312.90 575.62,313.34 576.89,313.77 578.16,314.19 579.43,314.61 580.70,315.01 581.97,315.40 583.24,315.77 584.51,316.12 585.78,316.46 587.05,316.78 588.32,317.07 589.59,317.36 590.86,317.62 592.13,317.87 593.40,318.11 594.67,318.34 595.94,318.57 597.21,318.78 598.48,318.99 599.75,319.20 601.02,319.40 602.29,319.60 603.56,319.78 604.83,319.96 606.10,320.13 607.37,320.29 608.64,320.44 609.91,320.59 611.18,320.74 612.45,320.89 613.72,321.04 614.99,321.20 616.26,321.36 617.53,321.52 618.80,321.69 620.07,321.85 621.34,322.01 622.61,322.18 623.88,322.34 625.15,322.50 626.42,322.67 627.69,322.83 628.96,322.99 630.23,323.16 631.50,323.32" stroke="#6bb0d6"/><polyline points="555.30,337.53 556.57,337.36 557.84,337.20 559.11,337.02 560.38,336.85 561.65,336.68 562.92,336.51 564.19,336.34 565.46,336.17 566.73,336.01 568.00,335.86 569.27,335.71 570.54,335.57 571.81,335.44 573.08,335.30 574.35,335.17 575.62,335.05 576.89,334.93 578.16,334.81 579.43,334.70 580.70,334.60 581.97,334.51 583.24,334.43 584.51,334.36 585.78,334.30 587.05,334.25 588.32,334.20 589.59,334.17 590.86,334.14 592.13,334.12 593.40,334.11 594.67,334.11 595.94,334.12 597.21,334.14 598.48,334.18 599.75,334.23 601.02,334.30 602.29,334.38 603.56,334.47 604.83,334.59 606.10,334.71 607.37,334.85 608.64,334.99 609.91,335.15 611.18,335.32 612.45,335.49 613.72,335.68 614.99,335.87 616.26,336.06 617.53,336.26 618.80,336.48 620.07,336.71 621.34,336.95 622.61,337.20 623.88,337.46 625.15,337.72 626.42,337.98 627.69,338.24 628.96,338.50 630.23,338.75 631.50,339.00" stroke="#8c64a6"/><polyline points="555.30,346.84 556.57,346.92 557.84,347.01 559.11,347.11 560.38,347.20 561.65,347.30 562.92,347.39 564.19,347.48 565.46,347.57 566.73,347.64 568.00,347.71 569.27,347.77 570.54,347.82 571.81,347.86 573.08,347.89 574.35,347.92 575.62,347.95 576.89,347.96 578.16,347.97 579.43,347.97 580.70,347.97 581.97,347.95 583.24,347.92 584.51,347.87 585.78,347.82 587.05,347.75 588.32,347.67 589.59,347.58 590.86,347.48 592.13,347.36 593.40,347.24 594.67,347.11 595.94,346.97 597.21,346.82 598.48,346.67 599.75,346.51 601.02,346.35 602.29,346.18 603.56,346.00 604.83,345.82 606.10,345.62 607.37,345.42 608.64,345.22 609.91,345.01 611.18,344.79 612.45,344.57 613.72,344.35 614.99,344.12 616.26,343.90 617.53,343.67 618.80,343.44 620.07,343.20 621.34,342.96 622.61,342.71 623.88,342.46 625.15,342.21 626.42,341.96 627.69,341.71 628.96,341.46 630.23,341.21 631.50,340.96" stroke="#dccbe4"/><polyline points="555.30,351.74 556.57,351.62 557.84,351.49 559.11,351.36 560.38,351.23 561.65,351.10 562.92,350.97 564.19,350.85 565.46,350.72 566.73,350.60 568.00,350.49 569.27,350.38 570.54,350.27 571.81,350.17 573.08,350.07 574.35,349.98 575.62,349.89 576.89,349.80 578.16,349.72 579.43,349.64 580.70,349.56 581.97,349.49 583.24,349.42 584.51,349.35 585.78,349.29 587.05,349.23 588.32,349.17 589.59,349.11 590.86,349.05 592.13,349.00 593.40,348.95 594.67,348.91 595.94,348.87 597.21,348.84 598.48,348.82 599.75,348.80 601.02,348.80 602.29,348.80 603.56,348.81 604.83,348.83 606.10,348.85 607.37,348.89 608.64,348.92 609.91,348.97 611.18,349.02 612.45,349.08 613.72,349.14 614.99,349.21 616.26,349.29 617.53,349.38 618.80,349.48 620.07,349.59 621.34,349.71 622.61,349.83 623.88,349.96 625.15,350.10 626.42,350.23 627.69,350.37 628.96,350.50 630.23,350.63 631.50,350.76" stroke="#f2a7a9"/><polyline points="555.30,353.70 556.57,353.49 557.84,353.28 559.11,353.06 560.38,352.85 561.65,352.63 562.92,352.41 564.19,352.20 565.46,351.99 566.73,351.79 568.00,351.60 569.27,351.42 570.54,351.25 571.81,351.09 573.08,350.94 574.35,350.80 575.62,350.67 576.89,350.54 578.16,350.42 579.43,350.31 580.70,350.20 581.97,350.09 583.24,349.99 584.51,349.88 585.78,349.78 587.05,349.68 588.32,349.59 589.59,349.50 590.86,349.42 592.13,349.34 593.40,349.26 594.67,349.18 595.94,349.11 597.21,349.03 598.48,348.96 599.75,348.88 601.02,348.80 602.29,348.72 603.56,348.63 604.83,348.54 606.10,348.46 607.37,348.37 608.64,348.28 609.91,348.19 611.18,348.11 612.45,348.03 613.72,347.95 614.99,347.88 616.26,347.82 617.53,347.76 618.80,347.71 620.07,347.66 621.34,347.62 622.61,347.58 623.88,347.54 625.15,347.51 626.42,347.48 627.69,347.44 628.96,347.41 630.23,347.37 631.50,347.33" stroke="#d94a4f"/><polyline points="555.30,353.70 556.57,353.49 557.84,353.28 559.11,353.06 560.38,352.85 561.65,352.63 562.92,352.41 564.19,352.20 565.46,351.99 566.73,351.79 568.00,351.60 569.27,351.42 570.54,351.25 571.81,351.09 573.08,350.94 574.35,350.79 575.62,350.65 576.89,350.52 578.16,350.39 579.43,350.27 580.70,350.16 581.97,350.06 583.24,349.96 584.51,349.87 585.78,349.78 587.05,349.70 588.32,349.62 589.59,349.55 590.86,349.49 592.13,349.43 593.40,349.38 594.67,349.34 595.94,349.31 597.21,349.29 598.48,349.28 599.75,349.28 601.02,349.29 602.29,349.32 603.56,349.36 604.83,349.42 606.10,349.49 607.37,349.57 608.64,349.66 609.91,349.75 611.18,349.85 612.45,349.96 613.72,350.06 614.99,350.17 616.26,350.27 617.53,350.38 618.80,350.49 620.07,350.60 621.34,350.72 622.61,350.85 623.88,350.97 625.15,351.10 626.42,351.23 627.69,351.36 628.96,351.49 630.23,351.62 631.50,351.74" stroke="#a8262d"/></g>
<rect x="546.1" y="302.60" width="94.6" height="54.2" fill="none" stroke="#333" stroke-width="0.6"/>
<rect x="546.1" y="292.0" width="94.6" height="10.6" fill="#d9d9d9" stroke="#333" stroke-width="0.6"/>
<text x="593.40" y="300.60" text-anchor="middle" font-family='"Liberation Sans", sans-serif' font-style="italic" font-size="9.8" fill="#1a1a1a">PGF</text>
<g stroke="#333" stroke-width="0.6"><line x1="543.8000000000001" y1="304.70" x2="546.1" y2="304.70"/><line x1="543.8000000000001" y1="314.50" x2="546.1" y2="314.50"/><line x1="543.8000000000001" y1="324.30" x2="546.1" y2="324.30"/><line x1="543.8000000000001" y1="334.10" x2="546.1" y2="334.10"/><line x1="543.8000000000001" y1="343.90" x2="546.1" y2="343.90"/><line x1="543.8000000000001" y1="353.70" x2="546.1" y2="353.70"/><line x1="555.30" y1="356.80" x2="555.30" y2="359.10"/><line x1="570.54" y1="356.80" x2="570.54" y2="359.10"/><line x1="585.78" y1="356.80" x2="585.78" y2="359.10"/><line x1="601.02" y1="356.80" x2="601.02" y2="359.10"/><line x1="616.26" y1="356.80" x2="616.26" y2="359.10"/><line x1="631.50" y1="356.80" x2="631.50" y2="359.10"/></g>
<g font-family='"Liberation Sans", sans-serif' font-size="9.4" fill="#1a1a1a"><text x="542.7" y="307.70" text-anchor="end">0.5</text><text x="542.7" y="317.50" text-anchor="end">0.4</text><text x="542.7" y="327.30" text-anchor="end">0.3</text><text x="542.7" y="337.10" text-anchor="end">0.2</text><text x="542.7" y="346.90" text-anchor="end">0.1</text><text x="542.7" y="356.70" text-anchor="end">0.0</text></g>
<rect x="427.5" y="375.50" width="94.6" height="54.2" fill="#fff"/>
<g stroke="#ebebeb" stroke-width="0.8"><line x1="436.70" y1="375.50" x2="436.70" y2="429.70"/><line x1="451.94" y1="375.50" x2="451.94" y2="429.70"/><line x1="467.18" y1="375.50" x2="467.18" y2="429.70"/><line x1="482.42" y1="375.50" x2="482.42" y2="429.70"/><line x1="497.66" y1="375.50" x2="497.66" y2="429.70"/><line x1="512.90" y1="375.50" x2="512.90" y2="429.70"/><line x1="427.5" y1="379.30" x2="522.1" y2="379.30"/><line x1="427.5" y1="390.10" x2="522.1" y2="390.10"/><line x1="427.5" y1="400.90" x2="522.1" y2="400.90"/><line x1="427.5" y1="411.70" x2="522.1" y2="411.70"/><line x1="427.5" y1="422.50" x2="522.1" y2="422.50"/></g>
<clipPath id="clCCN2"><rect x="427.5" y="375.50" width="94.6" height="54.2"/></clipPath>
<g clip-path="url(#clCCN2)" fill="none" stroke-width="0.9"><polyline points="436.70,420.34 437.97,419.62 439.24,418.91 440.51,418.20 441.78,417.49 443.05,416.78 444.32,416.07 445.59,415.36 446.86,414.64 448.13,413.92 449.40,413.19 450.67,412.45 451.94,411.70 453.21,410.93 454.48,410.13 455.75,409.31 457.02,408.48 458.29,407.65 459.56,406.81 460.83,405.99 462.10,405.17 463.37,404.38 464.64,403.62 465.91,402.88 467.18,402.20 468.45,401.54 469.72,400.91 470.99,400.29 472.26,399.70 473.53,399.13 474.80,398.58 476.07,398.05 477.34,397.54 478.61,397.05 479.88,396.59 481.15,396.14 482.42,395.72 483.69,395.30 484.96,394.88 486.23,394.48 487.50,394.08 488.77,393.71 490.04,393.37 491.31,393.06 492.58,392.79 493.85,392.57 495.12,392.40 496.39,392.30 497.66,392.26 498.93,392.31 500.20,392.44 501.47,392.64 502.74,392.90 504.01,393.21 505.28,393.56 506.55,393.93 507.82,394.31 509.09,394.69 510.36,395.06 511.63,395.41 512.90,395.72" stroke="#4a4c97"/><polyline points="436.70,413.00 437.97,412.59 439.24,412.18 440.51,411.77 441.78,411.35 443.05,410.93 444.32,410.51 445.59,410.10 446.86,409.70 448.13,409.31 449.40,408.94 450.67,408.58 451.94,408.24 453.21,407.92 454.48,407.62 455.75,407.32 457.02,407.03 458.29,406.75 459.56,406.49 460.83,406.24 462.10,406.00 463.37,405.78 464.64,405.58 465.91,405.39 467.18,405.22 468.45,405.06 469.72,404.90 470.99,404.74 472.26,404.60 473.53,404.47 474.80,404.36 476.07,404.27 477.34,404.21 478.61,404.19 479.88,404.20 481.15,404.25 482.42,404.36 483.69,404.50 484.96,404.68 486.23,404.90 487.50,405.16 488.77,405.44 490.04,405.76 491.31,406.11 492.58,406.48 493.85,406.89 495.12,407.32 496.39,407.77 497.66,408.24 498.93,408.76 500.20,409.31 501.47,409.91 502.74,410.55 504.01,411.21 505.28,411.89 506.55,412.58 507.82,413.28 509.09,413.98 510.36,414.68 511.63,415.36 512.90,416.02" stroke="#5679ab"/><polyline points="436.70,427.68 437.97,426.83 439.24,426.00 440.51,425.18 441.78,424.37 443.05,423.56 444.32,422.74 445.59,421.91 446.86,421.06 448.13,420.18 449.40,419.27 450.67,418.32 451.94,417.32 453.21,416.26 454.48,415.17 455.75,414.03 457.02,412.85 458.29,411.65 459.56,410.43 460.83,409.20 462.10,407.96 463.37,406.72 464.64,405.48 465.91,404.26 467.18,403.06 468.45,401.85 469.72,400.61 470.99,399.35 472.26,398.08 473.53,396.81 474.80,395.55 476.07,394.32 477.34,393.11 478.61,391.94 479.88,390.83 481.15,389.78 482.42,388.80 483.69,387.89 484.96,387.02 486.23,386.19 487.50,385.40 488.77,384.65 490.04,383.94 491.31,383.28 492.58,382.66 493.85,382.08 495.12,381.54 496.39,381.05 497.66,380.60 498.93,380.20 500.20,379.89 501.47,379.63 502.74,379.43 504.01,379.27 505.28,379.14 506.55,379.03 507.82,378.93 509.09,378.83 510.36,378.73 511.63,378.60 512.90,378.44" stroke="#6bb0d6"/><polyline points="436.70,409.54 437.97,409.36 439.24,409.18 440.51,409.00 441.78,408.82 443.05,408.64 444.32,408.46 445.59,408.28 446.86,408.10 448.13,407.92 449.40,407.74 450.67,407.56 451.94,407.38 453.21,407.20 454.48,407.00 455.75,406.81 457.02,406.61 458.29,406.41 459.56,406.22 460.83,406.03 462.10,405.84 463.37,405.67 464.64,405.50 465.91,405.35 467.18,405.22 468.45,405.10 469.72,404.98 470.99,404.87 472.26,404.77 473.53,404.68 474.80,404.60 476.07,404.53 477.34,404.47 478.61,404.42 479.88,404.38 481.15,404.36 482.42,404.36 483.69,404.35 484.96,404.35 486.23,404.34 487.50,404.34 488.77,404.35 490.04,404.38 491.31,404.44 492.58,404.52 493.85,404.63 495.12,404.78 496.39,404.98 497.66,405.22 498.93,405.52 500.20,405.88 501.47,406.29 502.74,406.74 504.01,407.22 505.28,407.73 506.55,408.26 507.82,408.79 509.09,409.32 510.36,409.84 511.63,410.35 512.90,410.84" stroke="#8c64a6"/><polyline points="436.70,419.48 437.97,419.22 439.24,418.97 440.51,418.71 441.78,418.45 443.05,418.19 444.32,417.94 445.59,417.68 446.86,417.43 448.13,417.18 449.40,416.93 450.67,416.69 451.94,416.45 453.21,416.22 454.48,415.98 455.75,415.73 457.02,415.49 458.29,415.25 459.56,415.02 460.83,414.80 462.10,414.58 463.37,414.38 464.64,414.19 465.91,414.01 467.18,413.86 468.45,413.72 469.72,413.60 470.99,413.48 472.26,413.38 473.53,413.29 474.80,413.21 476.07,413.15 477.34,413.09 478.61,413.05 479.88,413.02 481.15,413.00 482.42,413.00 483.69,413.01 484.96,413.04 486.23,413.08 487.50,413.14 488.77,413.21 490.04,413.29 491.31,413.38 492.58,413.48 493.85,413.57 495.12,413.67 496.39,413.77 497.66,413.86 498.93,413.95 500.20,414.05 501.47,414.15 502.74,414.26 504.01,414.37 505.28,414.48 506.55,414.59 507.82,414.71 509.09,414.82 510.36,414.94 511.63,415.05 512.90,415.16" stroke="#dccbe4"/><polyline points="436.70,418.18 437.97,418.00 439.24,417.81 440.51,417.61 441.78,417.41 443.05,417.21 444.32,417.02 445.59,416.83 446.86,416.64 448.13,416.47 449.40,416.31 450.67,416.15 451.94,416.02 453.21,415.90 454.48,415.79 455.75,415.69 457.02,415.60 458.29,415.52 459.56,415.45 460.83,415.39 462.10,415.33 463.37,415.28 464.64,415.24 465.91,415.19 467.18,415.16 468.45,415.12 469.72,415.10 470.99,415.09 472.26,415.08 473.53,415.07 474.80,415.07 476.07,415.08 477.34,415.09 478.61,415.11 479.88,415.12 481.15,415.14 482.42,415.16 483.69,415.17 484.96,415.19 486.23,415.21 487.50,415.24 488.77,415.26 490.04,415.29 491.31,415.32 492.58,415.36 493.85,415.41 495.12,415.46 496.39,415.52 497.66,415.59 498.93,415.67 500.20,415.75 501.47,415.85 502.74,415.96 504.01,416.07 505.28,416.18 506.55,416.30 507.82,416.42 509.09,416.54 510.36,416.66 511.63,416.77 512.90,416.88" stroke="#f2a7a9"/><polyline points="436.70,420.34 437.97,419.79 439.24,419.23 440.51,418.65 441.78,418.07 443.05,417.49 444.32,416.91 445.59,416.35 446.86,415.80 448.13,415.27 449.40,414.76 450.67,414.29 451.94,413.86 453.21,413.46 454.48,413.08 455.75,412.72 457.02,412.39 458.29,412.07 459.56,411.78 460.83,411.51 462.10,411.25 463.37,411.01 464.64,410.80 465.91,410.59 467.18,410.40 468.45,410.24 469.72,410.09 470.99,409.97 472.26,409.86 473.53,409.77 474.80,409.70 476.07,409.65 477.34,409.60 478.61,409.57 479.88,409.55 481.15,409.54 482.42,409.54 483.69,409.54 484.96,409.55 486.23,409.57 487.50,409.60 488.77,409.65 490.04,409.70 491.31,409.77 492.58,409.86 493.85,409.97 495.12,410.09 496.39,410.24 497.66,410.40 498.93,410.60 500.20,410.83 501.47,411.09 502.74,411.36 504.01,411.66 505.28,411.97 506.55,412.29 507.82,412.61 509.09,412.94 510.36,413.25 511.63,413.56 512.90,413.86" stroke="#d94a4f"/><polyline points="436.70,419.04 437.97,418.90 439.24,418.75 440.51,418.60 441.78,418.45 443.05,418.30 444.32,418.15 445.59,418.01 446.86,417.86 448.13,417.72 449.40,417.58 450.67,417.44 451.94,417.32 453.21,417.19 454.48,417.06 455.75,416.94 457.02,416.82 458.29,416.70 459.56,416.59 460.83,416.48 462.10,416.37 463.37,416.27 464.64,416.18 465.91,416.10 467.18,416.02 468.45,415.95 469.72,415.88 470.99,415.82 472.26,415.76 473.53,415.71 474.80,415.67 476.07,415.63 477.34,415.60 478.61,415.58 479.88,415.57 481.15,415.58 482.42,415.59 483.69,415.61 484.96,415.65 486.23,415.69 487.50,415.75 488.77,415.81 490.04,415.88 491.31,415.97 492.58,416.05 493.85,416.14 495.12,416.24 496.39,416.35 497.66,416.45 498.93,416.57 500.20,416.69 501.47,416.82 502.74,416.96 504.01,417.11 505.28,417.26 506.55,417.42 507.82,417.57 509.09,417.73 510.36,417.88 511.63,418.03 512.90,418.18" stroke="#a8262d"/></g>
<rect x="427.5" y="375.50" width="94.6" height="54.2" fill="none" stroke="#333" stroke-width="0.6"/>
<rect x="427.5" y="364.9" width="94.6" height="10.6" fill="#d9d9d9" stroke="#333" stroke-width="0.6"/>
<text x="474.80" y="373.50" text-anchor="middle" font-family='"Liberation Sans", sans-serif' font-style="italic" font-size="9.8" fill="#1a1a1a">CCN2</text>
<g stroke="#333" stroke-width="0.6"><line x1="425.2" y1="379.30" x2="427.5" y2="379.30"/><line x1="425.2" y1="390.10" x2="427.5" y2="390.10"/><line x1="425.2" y1="400.90" x2="427.5" y2="400.90"/><line x1="425.2" y1="411.70" x2="427.5" y2="411.70"/><line x1="425.2" y1="422.50" x2="427.5" y2="422.50"/><line x1="436.70" y1="429.70" x2="436.70" y2="432.00"/><line x1="451.94" y1="429.70" x2="451.94" y2="432.00"/><line x1="467.18" y1="429.70" x2="467.18" y2="432.00"/><line x1="482.42" y1="429.70" x2="482.42" y2="432.00"/><line x1="497.66" y1="429.70" x2="497.66" y2="432.00"/><line x1="512.90" y1="429.70" x2="512.90" y2="432.00"/></g>
<g font-family='"Liberation Sans", sans-serif' font-size="9.4" fill="#1a1a1a"><text x="424.1" y="382.30" text-anchor="end">1.00</text><text x="424.1" y="393.10" text-anchor="end">0.75</text><text x="424.1" y="403.90" text-anchor="end">0.50</text><text x="424.1" y="414.70" text-anchor="end">0.25</text><text x="424.1" y="425.50" text-anchor="end">0.00</text></g>
<rect x="546.1" y="375.50" width="94.6" height="54.2" fill="#fff"/>
<g stroke="#ebebeb" stroke-width="0.8"><line x1="555.30" y1="375.50" x2="555.30" y2="429.70"/><line x1="570.54" y1="375.50" x2="570.54" y2="429.70"/><line x1="585.78" y1="375.50" x2="585.78" y2="429.70"/><line x1="601.02" y1="375.50" x2="601.02" y2="429.70"/><line x1="616.26" y1="375.50" x2="616.26" y2="429.70"/><line x1="631.50" y1="375.50" x2="631.50" y2="429.70"/><line x1="546.1" y1="388.00" x2="640.7" y2="388.00"/><line x1="546.1" y1="401.20" x2="640.7" y2="401.20"/><line x1="546.1" y1="414.40" x2="640.7" y2="414.40"/><line x1="546.1" y1="427.60" x2="640.7" y2="427.60"/></g>
<clipPath id="clIGF2"><rect x="546.1" y="375.50" width="94.6" height="54.2"/></clipPath>
<g clip-path="url(#clIGF2)" fill="none" stroke-width="0.9"><polyline points="555.30,407.80 556.57,407.62 557.84,407.44 559.11,407.26 560.38,407.08 561.65,406.91 562.92,406.73 564.19,406.55 565.46,406.37 566.73,406.18 568.00,405.99 569.27,405.80 570.54,405.60 571.81,405.39 573.08,405.18 574.35,404.96 575.62,404.74 576.89,404.51 578.16,404.28 579.43,404.05 580.70,403.82 581.97,403.60 583.24,403.38 584.51,403.17 585.78,402.96 587.05,402.76 588.32,402.55 589.59,402.35 590.86,402.15 592.13,401.95 593.40,401.75 594.67,401.56 595.94,401.38 597.21,401.21 598.48,401.05 599.75,400.90 601.02,400.76 602.29,400.63 603.56,400.50 604.83,400.36 606.10,400.24 607.37,400.12 608.64,400.02 609.91,399.93 611.18,399.86 612.45,399.82 613.72,399.81 614.99,399.83 616.26,399.88 617.53,399.98 618.80,400.12 620.07,400.29 621.34,400.50 622.61,400.73 623.88,400.98 625.15,401.24 626.42,401.51 627.69,401.78 628.96,402.04 630.23,402.29 631.50,402.52" stroke="#4a4c97"/><polyline points="555.30,426.72 556.57,425.30 557.84,423.84 559.11,422.35 560.38,420.85 561.65,419.35 562.92,417.87 564.19,416.41 565.46,414.99 566.73,413.62 568.00,412.33 569.27,411.12 570.54,410.00 571.81,408.96 573.08,407.97 574.35,407.04 575.62,406.15 576.89,405.33 578.16,404.56 579.43,403.84 580.70,403.19 581.97,402.60 583.24,402.07 584.51,401.60 585.78,401.20 587.05,400.86 588.32,400.59 589.59,400.38 590.86,400.22 592.13,400.13 593.40,400.10 594.67,400.13 595.94,400.22 597.21,400.38 598.48,400.59 599.75,400.86 601.02,401.20 602.29,401.61 603.56,402.12 604.83,402.70 606.10,403.35 607.37,404.06 608.64,404.83 609.91,405.64 611.18,406.48 612.45,407.35 613.72,408.23 614.99,409.12 616.26,410.00 617.53,410.90 618.80,411.85 620.07,412.83 621.34,413.85 622.61,414.88 623.88,415.94 625.15,417.01 626.42,418.08 627.69,419.16 628.96,420.23 630.23,421.28 631.50,422.32" stroke="#5679ab"/><polyline points="555.30,389.32 556.57,388.64 557.84,387.93 559.11,387.21 560.38,386.47 561.65,385.73 562.92,385.00 564.19,384.29 565.46,383.62 566.73,382.98 568.00,382.39 569.27,381.86 570.54,381.40 571.81,381.00 573.08,380.65 574.35,380.34 575.62,380.08 576.89,379.86 578.16,379.67 579.43,379.52 580.70,379.40 581.97,379.31 583.24,379.25 584.51,379.21 585.78,379.20 587.05,379.21 588.32,379.24 589.59,379.29 590.86,379.36 592.13,379.47 593.40,379.61 594.67,379.79 595.94,380.01 597.21,380.28 598.48,380.60 599.75,380.97 601.02,381.40 602.29,381.87 603.56,382.38 604.83,382.93 606.10,383.52 607.37,384.15 608.64,384.84 609.91,385.58 611.18,386.37 612.45,387.23 613.72,388.15 614.99,389.14 616.26,390.20 617.53,391.36 618.80,392.62 620.07,393.98 621.34,395.41 622.61,396.91 623.88,398.45 625.15,400.02 626.42,401.61 627.69,403.19 628.96,404.76 630.23,406.31 631.50,407.80" stroke="#6bb0d6"/><polyline points="555.30,419.68 556.57,419.23 557.84,418.78 559.11,418.32 560.38,417.85 561.65,417.39 562.92,416.93 564.19,416.48 565.46,416.03 566.73,415.60 568.00,415.18 569.27,414.78 570.54,414.40 571.81,414.04 573.08,413.69 574.35,413.36 575.62,413.03 576.89,412.72 578.16,412.42 579.43,412.13 580.70,411.86 581.97,411.60 583.24,411.34 584.51,411.11 585.78,410.88 587.05,410.66 588.32,410.43 589.59,410.20 590.86,409.98 592.13,409.78 593.40,409.59 594.67,409.42 595.94,409.28 597.21,409.18 598.48,409.11 599.75,409.09 601.02,409.12 602.29,409.19 603.56,409.29 604.83,409.42 606.10,409.58 607.37,409.77 608.64,410.00 609.91,410.27 611.18,410.57 612.45,410.91 613.72,411.30 614.99,411.73 616.26,412.20 617.53,412.73 618.80,413.34 620.07,414.00 621.34,414.71 622.61,415.46 623.88,416.24 625.15,417.04 626.42,417.85 627.69,418.67 628.96,419.47 630.23,420.25 631.50,421.00" stroke="#8c64a6"/><polyline points="555.30,426.72 556.57,426.05 557.84,425.35 559.11,424.64 560.38,423.92 561.65,423.20 562.92,422.49 564.19,421.79 565.46,421.11 566.73,420.47 568.00,419.87 569.27,419.31 570.54,418.80 571.81,418.34 573.08,417.92 574.35,417.53 575.62,417.17 576.89,416.84 578.16,416.55 579.43,416.27 580.70,416.03 581.97,415.81 583.24,415.61 584.51,415.44 585.78,415.28 587.05,415.15 588.32,415.05 589.59,414.97 590.86,414.92 592.13,414.90 593.40,414.90 594.67,414.91 595.94,414.95 597.21,415.01 598.48,415.09 599.75,415.18 601.02,415.28 602.29,415.40 603.56,415.53 604.83,415.67 606.10,415.83 607.37,416.01 608.64,416.22 609.91,416.44 611.18,416.68 612.45,416.95 613.72,417.25 614.99,417.57 616.26,417.92 617.53,418.31 618.80,418.74 620.07,419.21 621.34,419.71 622.61,420.24 623.88,420.78 625.15,421.34 626.42,421.90 627.69,422.46 628.96,423.01 630.23,423.56 631.50,424.08" stroke="#dccbe4"/><polyline points="555.30,424.08 556.57,423.44 557.84,422.77 559.11,422.09 560.38,421.39 561.65,420.70 562.92,420.01 564.19,419.34 565.46,418.70 566.73,418.10 568.00,417.54 569.27,417.04 570.54,416.60 571.81,416.22 573.08,415.89 574.35,415.61 575.62,415.36 576.89,415.15 578.16,414.98 579.43,414.83 580.70,414.71 581.97,414.61 583.24,414.53 584.51,414.46 585.78,414.40 587.05,414.36 588.32,414.34 589.59,414.34 590.86,414.37 592.13,414.41 593.40,414.48 594.67,414.57 595.94,414.68 597.21,414.80 598.48,414.94 599.75,415.10 601.02,415.28 602.29,415.47 603.56,415.68 604.83,415.90 606.10,416.14 607.37,416.40 608.64,416.68 609.91,416.98 611.18,417.30 612.45,417.64 613.72,418.00 614.99,418.39 616.26,418.80 617.53,419.24 618.80,419.72 620.07,420.23 621.34,420.77 622.61,421.33 623.88,421.91 625.15,422.49 626.42,423.09 627.69,423.68 628.96,424.26 630.23,424.84 631.50,425.40" stroke="#f2a7a9"/><polyline points="555.30,425.40 556.57,424.47 557.84,423.50 559.11,422.52 560.38,421.52 561.65,420.53 562.92,419.54 564.19,418.58 565.46,417.64 566.73,416.75 568.00,415.90 569.27,415.12 570.54,414.40 571.81,413.74 573.08,413.12 574.35,412.53 575.62,411.99 576.89,411.48 578.16,411.02 579.43,410.59 580.70,410.21 581.97,409.87 583.24,409.58 584.51,409.33 585.78,409.12 587.05,408.96 588.32,408.84 589.59,408.77 590.86,408.75 592.13,408.76 593.40,408.82 594.67,408.92 595.94,409.05 597.21,409.23 598.48,409.45 599.75,409.71 601.02,410.00 602.29,410.34 603.56,410.73 604.83,411.17 606.10,411.65 607.37,412.17 608.64,412.72 609.91,413.31 611.18,413.93 612.45,414.57 613.72,415.23 614.99,415.91 616.26,416.60 617.53,417.32 618.80,418.08 620.07,418.88 621.34,419.71 622.61,420.57 623.88,421.44 625.15,422.33 626.42,423.22 627.69,424.11 628.96,424.99 630.23,425.87 631.50,426.72" stroke="#d94a4f"/><polyline points="555.30,425.40 556.57,424.95 557.84,424.48 559.11,424.01 560.38,423.53 561.65,423.04 562.92,422.57 564.19,422.10 565.46,421.65 566.73,421.22 568.00,420.82 569.27,420.45 570.54,420.12 571.81,419.82 573.08,419.55 574.35,419.30 575.62,419.08 576.89,418.87 578.16,418.69 579.43,418.52 580.70,418.38 581.97,418.24 583.24,418.12 584.51,418.02 585.78,417.92 587.05,417.83 588.32,417.76 589.59,417.69 590.86,417.64 592.13,417.61 593.40,417.59 594.67,417.59 595.94,417.61 597.21,417.65 598.48,417.72 599.75,417.81 601.02,417.92 602.29,418.06 603.56,418.22 604.83,418.41 606.10,418.62 607.37,418.85 608.64,419.10 609.91,419.37 611.18,419.66 612.45,419.97 613.72,420.30 614.99,420.64 616.26,421.00 617.53,421.38 618.80,421.80 620.07,422.24 621.34,422.71 622.61,423.20 623.88,423.70 625.15,424.20 626.42,424.72 627.69,425.23 628.96,425.74 630.23,426.23 631.50,426.72" stroke="#a8262d"/></g>
<rect x="546.1" y="375.50" width="94.6" height="54.2" fill="none" stroke="#333" stroke-width="0.6"/>
<rect x="546.1" y="364.9" width="94.6" height="10.6" fill="#d9d9d9" stroke="#333" stroke-width="0.6"/>
<text x="593.40" y="373.50" text-anchor="middle" font-family='"Liberation Sans", sans-serif' font-style="italic" font-size="9.8" fill="#1a1a1a">IGF2</text>
<g stroke="#333" stroke-width="0.6"><line x1="543.8000000000001" y1="388.00" x2="546.1" y2="388.00"/><line x1="543.8000000000001" y1="401.20" x2="546.1" y2="401.20"/><line x1="543.8000000000001" y1="414.40" x2="546.1" y2="414.40"/><line x1="543.8000000000001" y1="427.60" x2="546.1" y2="427.60"/><line x1="555.30" y1="429.70" x2="555.30" y2="432.00"/><line x1="570.54" y1="429.70" x2="570.54" y2="432.00"/><line x1="585.78" y1="429.70" x2="585.78" y2="432.00"/><line x1="601.02" y1="429.70" x2="601.02" y2="432.00"/><line x1="616.26" y1="429.70" x2="616.26" y2="432.00"/><line x1="631.50" y1="429.70" x2="631.50" y2="432.00"/></g>
<g font-family='"Liberation Sans", sans-serif' font-size="9.4" fill="#1a1a1a"><text x="542.7" y="391.00" text-anchor="end">0.9</text><text x="542.7" y="404.20" text-anchor="end">0.6</text><text x="542.7" y="417.40" text-anchor="end">0.3</text><text x="542.7" y="430.60" text-anchor="end">0.0</text></g>
<rect x="427.5" y="448.80" width="94.6" height="54.2" fill="#fff"/>
<g stroke="#ebebeb" stroke-width="0.8"><line x1="436.70" y1="448.80" x2="436.70" y2="503.00"/><line x1="451.94" y1="448.80" x2="451.94" y2="503.00"/><line x1="467.18" y1="448.80" x2="467.18" y2="503.00"/><line x1="482.42" y1="448.80" x2="482.42" y2="503.00"/><line x1="497.66" y1="448.80" x2="497.66" y2="503.00"/><line x1="512.90" y1="448.80" x2="512.90" y2="503.00"/><line x1="427.5" y1="451.00" x2="522.1" y2="451.00"/><line x1="427.5" y1="463.15" x2="522.1" y2="463.15"/><line x1="427.5" y1="475.30" x2="522.1" y2="475.30"/><line x1="427.5" y1="487.45" x2="522.1" y2="487.45"/><line x1="427.5" y1="499.60" x2="522.1" y2="499.60"/></g>
<clipPath id="clFGF2"><rect x="427.5" y="448.80" width="94.6" height="54.2"/></clipPath>
<g clip-path="url(#clFGF2)" fill="none" stroke-width="0.9"><polyline points="436.70,474.69 437.97,474.50 439.24,474.31 440.51,474.13 441.78,473.95 443.05,473.77 444.32,473.59 445.59,473.40 446.86,473.21 448.13,473.00 449.40,472.77 450.67,472.53 451.94,472.26 453.21,471.97 454.48,471.67 455.75,471.34 457.02,471.00 458.29,470.65 459.56,470.29 460.83,469.92 462.10,469.54 463.37,469.16 464.64,468.78 465.91,468.39 467.18,468.01 468.45,467.62 469.72,467.21 470.99,466.80 472.26,466.37 473.53,465.94 474.80,465.50 476.07,465.08 477.34,464.66 478.61,464.25 479.88,463.86 481.15,463.49 482.42,463.15 483.69,462.82 484.96,462.48 486.23,462.15 487.50,461.82 488.77,461.51 490.04,461.21 491.31,460.94 492.58,460.70 493.85,460.49 495.12,460.32 496.39,460.19 497.66,460.11 498.93,460.09 500.20,460.13 501.47,460.23 502.74,460.36 504.01,460.53 505.28,460.72 506.55,460.93 507.82,461.15 509.09,461.37 510.36,461.57 511.63,461.77 512.90,461.94" stroke="#4a4c97"/><polyline points="436.70,498.39 437.97,497.87 439.24,497.36 440.51,496.84 441.78,496.31 443.05,495.79 444.32,495.27 445.59,494.76 446.86,494.25 448.13,493.74 449.40,493.25 450.67,492.77 451.94,492.31 453.21,491.85 454.48,491.39 455.75,490.94 457.02,490.49 458.29,490.05 459.56,489.61 460.83,489.20 462.10,488.80 463.37,488.42 464.64,488.07 465.91,487.74 467.18,487.45 468.45,487.19 469.72,486.96 470.99,486.75 472.26,486.57 473.53,486.41 474.80,486.27 476.07,486.15 477.34,486.03 478.61,485.93 479.88,485.83 481.15,485.73 482.42,485.63 483.69,485.53 484.96,485.45 486.23,485.38 487.50,485.31 488.77,485.26 490.04,485.21 491.31,485.17 492.58,485.13 493.85,485.10 495.12,485.07 496.39,485.05 497.66,485.02 498.93,485.00 500.20,484.98 501.47,484.98 502.74,484.98 504.01,484.98 505.28,484.98 506.55,484.99 507.82,485.00 509.09,485.01 510.36,485.01 511.63,485.02 512.90,485.02" stroke="#5679ab"/><polyline points="436.70,452.22 437.97,453.03 439.24,453.86 440.51,454.70 441.78,455.55 443.05,456.39 444.32,457.23 445.59,458.06 446.86,458.88 448.13,459.68 449.40,460.46 450.67,461.21 451.94,461.94 453.21,462.64 454.48,463.32 455.75,463.99 457.02,464.63 458.29,465.27 459.56,465.88 460.83,466.48 462.10,467.07 463.37,467.63 464.64,468.18 465.91,468.71 467.18,469.23 468.45,469.72 469.72,470.18 470.99,470.61 472.26,471.03 473.53,471.42 474.80,471.81 476.07,472.18 477.34,472.56 478.61,472.93 479.88,473.30 481.15,473.69 482.42,474.09 483.69,474.48 484.96,474.87 486.23,475.24 487.50,475.62 488.77,475.99 490.04,476.36 491.31,476.75 492.58,477.15 493.85,477.56 495.12,477.99 496.39,478.45 497.66,478.95 498.93,479.47 500.20,480.02 501.47,480.60 502.74,481.20 504.01,481.81 505.28,482.44 506.55,483.07 507.82,483.72 509.09,484.36 510.36,484.99 511.63,485.62 512.90,486.24" stroke="#6bb0d6"/><polyline points="436.70,477.73 437.97,477.63 439.24,477.53 440.51,477.43 441.78,477.33 443.05,477.22 444.32,477.12 445.59,477.02 446.86,476.92 448.13,476.82 449.40,476.72 450.67,476.62 451.94,476.52 453.21,476.41 454.48,476.30 455.75,476.18 457.02,476.06 458.29,475.95 459.56,475.83 460.83,475.72 462.10,475.62 463.37,475.52 464.64,475.43 465.91,475.36 467.18,475.30 468.45,475.25 469.72,475.22 470.99,475.19 472.26,475.17 473.53,475.15 474.80,475.15 476.07,475.15 477.34,475.17 478.61,475.19 479.88,475.22 481.15,475.25 482.42,475.30 483.69,475.36 484.96,475.43 486.23,475.52 487.50,475.62 488.77,475.72 490.04,475.83 491.31,475.95 492.58,476.06 493.85,476.18 495.12,476.30 496.39,476.41 497.66,476.52 498.93,476.62 500.20,476.72 501.47,476.82 502.74,476.92 504.01,477.02 505.28,477.12 506.55,477.22 507.82,477.33 509.09,477.43 510.36,477.53 511.63,477.63 512.90,477.73" stroke="#8c64a6"/><polyline points="436.70,495.96 437.97,495.75 439.24,495.55 440.51,495.35 441.78,495.15 443.05,494.94 444.32,494.74 445.59,494.54 446.86,494.34 448.13,494.13 449.40,493.93 450.67,493.73 451.94,493.53 453.21,493.33 454.48,493.13 455.75,492.95 457.02,492.76 458.29,492.57 459.56,492.39 460.83,492.19 462.10,492.00 463.37,491.79 464.64,491.57 465.91,491.34 467.18,491.10 468.45,490.84 469.72,490.57 470.99,490.30 472.26,490.02 473.53,489.72 474.80,489.42 476.07,489.12 477.34,488.80 478.61,488.48 479.88,488.14 481.15,487.80 482.42,487.45 483.69,487.09 484.96,486.71 486.23,486.32 487.50,485.92 488.77,485.51 490.04,485.10 491.31,484.68 492.58,484.25 493.85,483.83 495.12,483.41 496.39,483.00 497.66,482.59 498.93,482.19 500.20,481.78 501.47,481.38 502.74,480.97 504.01,480.56 505.28,480.16 506.55,479.75 507.82,479.35 509.09,478.95 510.36,478.54 511.63,478.14 512.90,477.73" stroke="#dccbe4"/><polyline points="436.70,483.81 437.97,484.21 439.24,484.63 440.51,485.05 441.78,485.47 443.05,485.89 444.32,486.31 445.59,486.73 446.86,487.14 448.13,487.54 449.40,487.93 450.67,488.30 451.94,488.67 453.21,489.02 454.48,489.38 455.75,489.73 457.02,490.08 458.29,490.42 459.56,490.75 460.83,491.07 462.10,491.37 463.37,491.64 464.64,491.89 465.91,492.12 467.18,492.31 468.45,492.48 469.72,492.63 470.99,492.76 472.26,492.87 473.53,492.96 474.80,493.03 476.07,493.08 477.34,493.10 478.61,493.09 479.88,493.06 481.15,493.00 482.42,492.92 483.69,492.80 484.96,492.66 486.23,492.50 487.50,492.31 488.77,492.09 490.04,491.85 491.31,491.59 492.58,491.30 493.85,490.98 495.12,490.64 496.39,490.27 497.66,489.88 498.93,489.45 500.20,488.98 501.47,488.47 502.74,487.92 504.01,487.35 505.28,486.77 506.55,486.17 507.82,485.56 509.09,484.95 510.36,484.35 511.63,483.77 512.90,483.20" stroke="#f2a7a9"/><polyline points="436.70,500.81 437.97,500.09 439.24,499.36 440.51,498.60 441.78,497.85 443.05,497.09 444.32,496.33 445.59,495.60 446.86,494.88 448.13,494.18 449.40,493.52 450.67,492.89 451.94,492.31 453.21,491.77 454.48,491.25 455.75,490.75 457.02,490.29 458.29,489.84 459.56,489.42 460.83,489.03 462.10,488.67 463.37,488.32 464.64,488.01 465.91,487.72 467.18,487.45 468.45,487.21 469.72,486.98 470.99,486.78 472.26,486.60 473.53,486.44 474.80,486.31 476.07,486.21 477.34,486.15 478.61,486.11 479.88,486.11 481.15,486.15 482.42,486.24 483.69,486.36 484.96,486.53 486.23,486.75 487.50,487.00 488.77,487.29 490.04,487.60 491.31,487.94 492.58,488.31 493.85,488.68 495.12,489.08 496.39,489.48 497.66,489.88 498.93,490.30 500.20,490.75 501.47,491.23 502.74,491.73 504.01,492.24 505.28,492.77 506.55,493.30 507.82,493.84 509.09,494.38 510.36,494.91 511.63,495.44 512.90,495.96" stroke="#d94a4f"/><polyline points="436.70,495.96 437.97,495.70 439.24,495.43 440.51,495.15 441.78,494.88 443.05,494.60 444.32,494.32 445.59,494.05 446.86,493.80 448.13,493.55 449.40,493.32 450.67,493.11 451.94,492.92 453.21,492.75 454.48,492.60 455.75,492.46 457.02,492.33 458.29,492.22 459.56,492.12 460.83,492.03 462.10,491.95 463.37,491.88 464.64,491.81 465.91,491.76 467.18,491.70 468.45,491.65 469.72,491.61 470.99,491.57 472.26,491.55 473.53,491.52 474.80,491.51 476.07,491.51 477.34,491.52 478.61,491.55 479.88,491.58 481.15,491.63 482.42,491.70 483.69,491.79 484.96,491.89 486.23,492.02 487.50,492.15 488.77,492.30 490.04,492.46 491.31,492.63 492.58,492.81 493.85,492.98 495.12,493.17 496.39,493.35 497.66,493.53 498.93,493.71 500.20,493.89 501.47,494.09 502.74,494.29 504.01,494.49 505.28,494.70 506.55,494.91 507.82,495.12 509.09,495.33 510.36,495.54 511.63,495.75 512.90,495.96" stroke="#a8262d"/></g>
<rect x="427.5" y="448.80" width="94.6" height="54.2" fill="none" stroke="#333" stroke-width="0.6"/>
<rect x="427.5" y="438.2" width="94.6" height="10.6" fill="#d9d9d9" stroke="#333" stroke-width="0.6"/>
<text x="474.80" y="446.80" text-anchor="middle" font-family='"Liberation Sans", sans-serif' font-style="italic" font-size="9.8" fill="#1a1a1a">FGF2</text>
<g stroke="#333" stroke-width="0.6"><line x1="425.2" y1="451.00" x2="427.5" y2="451.00"/><line x1="425.2" y1="463.15" x2="427.5" y2="463.15"/><line x1="425.2" y1="475.30" x2="427.5" y2="475.30"/><line x1="425.2" y1="487.45" x2="427.5" y2="487.45"/><line x1="425.2" y1="499.60" x2="427.5" y2="499.60"/><line x1="436.70" y1="503.00" x2="436.70" y2="505.30"/><line x1="451.94" y1="503.00" x2="451.94" y2="505.30"/><line x1="467.18" y1="503.00" x2="467.18" y2="505.30"/><line x1="482.42" y1="503.00" x2="482.42" y2="505.30"/><line x1="497.66" y1="503.00" x2="497.66" y2="505.30"/><line x1="512.90" y1="503.00" x2="512.90" y2="505.30"/></g>
<g font-family='"Liberation Sans", sans-serif' font-size="9.4" fill="#1a1a1a"><text x="424.1" y="454.00" text-anchor="end">0.4</text><text x="424.1" y="466.15" text-anchor="end">0.3</text><text x="424.1" y="478.30" text-anchor="end">0.2</text><text x="424.1" y="490.45" text-anchor="end">0.1</text><text x="424.1" y="502.60" text-anchor="end">0.0</text></g>
<rect x="546.1" y="448.80" width="94.6" height="54.2" fill="#fff"/>
<g stroke="#ebebeb" stroke-width="0.8"><line x1="555.30" y1="448.80" x2="555.30" y2="503.00"/><line x1="570.54" y1="448.80" x2="570.54" y2="503.00"/><line x1="585.78" y1="448.80" x2="585.78" y2="503.00"/><line x1="601.02" y1="448.80" x2="601.02" y2="503.00"/><line x1="616.26" y1="448.80" x2="616.26" y2="503.00"/><line x1="631.50" y1="448.80" x2="631.50" y2="503.00"/><line x1="546.1" y1="449.80" x2="640.7" y2="449.80"/><line x1="546.1" y1="461.70" x2="640.7" y2="461.70"/><line x1="546.1" y1="473.60" x2="640.7" y2="473.60"/><line x1="546.1" y1="485.50" x2="640.7" y2="485.50"/><line x1="546.1" y1="497.40" x2="640.7" y2="497.40"/></g>
<clipPath id="clVGF"><rect x="546.1" y="448.80" width="94.6" height="54.2"/></clipPath>
<g clip-path="url(#clVGF)" fill="none" stroke-width="0.9"><polyline points="555.30,498.59 556.57,498.59 557.84,498.60 559.11,498.62 560.38,498.63 561.65,498.65 562.92,498.66 564.19,498.67 565.46,498.68 566.73,498.67 568.00,498.66 569.27,498.63 570.54,498.59 571.81,498.53 573.08,498.46 574.35,498.38 575.62,498.28 576.89,498.18 578.16,498.07 579.43,497.96 580.70,497.84 581.97,497.73 583.24,497.61 584.51,497.50 585.78,497.40 587.05,497.30 588.32,497.20 589.59,497.10 590.86,497.00 592.13,496.90 593.40,496.80 594.67,496.71 595.94,496.61 597.21,496.51 598.48,496.41 599.75,496.31 601.02,496.21 602.29,496.11 603.56,496.01 604.83,495.91 606.10,495.81 607.37,495.71 608.64,495.61 609.91,495.52 611.18,495.42 612.45,495.32 613.72,495.22 614.99,495.12 616.26,495.02 617.53,494.92 618.80,494.82 620.07,494.72 621.34,494.62 622.61,494.52 623.88,494.42 625.15,494.33 626.42,494.23 627.69,494.13 628.96,494.03 630.23,493.93 631.50,493.83" stroke="#4a4c97"/><polyline points="555.30,499.78 556.57,499.07 557.84,498.35 559.11,497.61 560.38,496.87 561.65,496.13 562.92,495.39 564.19,494.67 565.46,493.96 566.73,493.28 568.00,492.63 569.27,492.02 570.54,491.45 571.81,490.92 573.08,490.43 574.35,489.97 575.62,489.53 576.89,489.12 578.16,488.74 579.43,488.37 580.70,488.01 581.97,487.67 583.24,487.34 584.51,487.01 585.78,486.69 587.05,486.37 588.32,486.05 589.59,485.74 590.86,485.43 592.13,485.14 593.40,484.87 594.67,484.61 595.94,484.38 597.21,484.17 598.48,483.98 599.75,483.83 601.02,483.71 602.29,483.62 603.56,483.55 604.83,483.49 606.10,483.45 607.37,483.44 608.64,483.45 609.91,483.50 611.18,483.58 612.45,483.70 613.72,483.86 614.99,484.06 616.26,484.31 617.53,484.62 618.80,484.99 620.07,485.42 621.34,485.90 622.61,486.41 623.88,486.95 625.15,487.51 626.42,488.08 627.69,488.65 628.96,489.21 630.23,489.75 631.50,490.26" stroke="#5679ab"/><polyline points="555.30,498.59 556.57,498.39 557.84,498.18 559.11,497.97 560.38,497.75 561.65,497.54 562.92,497.33 564.19,497.12 565.46,496.92 566.73,496.72 568.00,496.54 569.27,496.37 570.54,496.21 571.81,496.07 573.08,495.95 574.35,495.84 575.62,495.75 576.89,495.66 578.16,495.58 579.43,495.50 580.70,495.42 581.97,495.33 583.24,495.24 584.51,495.14 585.78,495.02 587.05,494.89 588.32,494.75 589.59,494.60 590.86,494.45 592.13,494.29 593.40,494.13 594.67,493.97 595.94,493.81 597.21,493.65 598.48,493.50 599.75,493.36 601.02,493.23 602.29,493.11 603.56,492.98 604.83,492.85 606.10,492.73 607.37,492.61 608.64,492.49 609.91,492.38 611.18,492.29 612.45,492.20 613.72,492.13 614.99,492.08 616.26,492.04 617.53,492.03 618.80,492.04 620.07,492.07 621.34,492.11 622.61,492.17 623.88,492.23 625.15,492.30 626.42,492.38 627.69,492.45 628.96,492.52 630.23,492.58 631.50,492.64" stroke="#6bb0d6"/><polyline points="555.30,492.64 556.57,492.59 557.84,492.55 559.11,492.51 560.38,492.46 561.65,492.42 562.92,492.38 564.19,492.34 565.46,492.29 566.73,492.24 568.00,492.18 569.27,492.12 570.54,492.04 571.81,491.97 573.08,491.88 574.35,491.79 575.62,491.69 576.89,491.59 578.16,491.49 579.43,491.38 580.70,491.27 581.97,491.17 583.24,491.06 584.51,490.96 585.78,490.85 587.05,490.75 588.32,490.64 589.59,490.53 590.86,490.41 592.13,490.30 593.40,490.19 594.67,490.08 595.94,489.97 597.21,489.88 598.48,489.79 599.75,489.72 601.02,489.66 602.29,489.62 603.56,489.58 604.83,489.54 606.10,489.51 607.37,489.49 608.64,489.48 609.91,489.48 611.18,489.49 612.45,489.51 613.72,489.55 614.99,489.60 616.26,489.66 617.53,489.75 618.80,489.86 620.07,489.99 621.34,490.13 622.61,490.28 623.88,490.45 625.15,490.62 626.42,490.79 627.69,490.96 628.96,491.13 630.23,491.30 631.50,491.45" stroke="#8c64a6"/><polyline points="555.30,499.78 556.57,498.58 557.84,497.37 559.11,496.15 560.38,494.93 561.65,493.71 562.92,492.49 564.19,491.28 565.46,490.08 566.73,488.90 568.00,487.74 569.27,486.61 570.54,485.50 571.81,484.41 573.08,483.32 574.35,482.25 575.62,481.18 576.89,480.13 578.16,479.10 579.43,478.10 580.70,477.13 581.97,476.18 583.24,475.28 584.51,474.42 585.78,473.60 587.05,472.83 588.32,472.09 589.59,471.38 590.86,470.71 592.13,470.08 593.40,469.47 594.67,468.90 595.94,468.36 597.21,467.84 598.48,467.35 599.75,466.89 601.02,466.46 602.29,466.05 603.56,465.67 604.83,465.31 606.10,464.98 607.37,464.68 608.64,464.41 609.91,464.18 611.18,463.97 612.45,463.80 613.72,463.66 614.99,463.55 616.26,463.48 617.53,463.47 618.80,463.51 620.07,463.60 621.34,463.73 622.61,463.89 623.88,464.08 625.15,464.29 626.42,464.50 627.69,464.71 628.96,464.92 630.23,465.11 631.50,465.27" stroke="#dccbe4"/><polyline points="555.30,487.28 556.57,486.63 557.84,485.98 559.11,485.31 560.38,484.64 561.65,483.97 562.92,483.31 564.19,482.65 565.46,482.00 566.73,481.36 568.00,480.74 569.27,480.13 570.54,479.55 571.81,478.99 573.08,478.46 574.35,477.94 575.62,477.43 576.89,476.94 578.16,476.46 579.43,475.99 580.70,475.52 581.97,475.05 583.24,474.57 584.51,474.09 585.78,473.60 587.05,473.09 588.32,472.57 589.59,472.03 590.86,471.48 592.13,470.94 593.40,470.40 594.67,469.88 595.94,469.37 597.21,468.89 598.48,468.44 599.75,468.02 601.02,467.65 602.29,467.30 603.56,466.95 604.83,466.61 606.10,466.28 607.37,465.98 608.64,465.72 609.91,465.49 611.18,465.31 612.45,465.20 613.72,465.14 614.99,465.17 616.26,465.27 617.53,465.47 618.80,465.78 620.07,466.17 621.34,466.64 622.61,467.16 623.88,467.72 625.15,468.32 626.42,468.93 627.69,469.54 628.96,470.13 630.23,470.70 631.50,471.22" stroke="#f2a7a9"/><polyline points="555.30,480.74 556.57,480.66 557.84,480.60 559.11,480.55 560.38,480.52 561.65,480.49 562.92,480.44 564.19,480.38 565.46,480.30 566.73,480.18 568.00,480.02 569.27,479.82 570.54,479.55 571.81,479.22 573.08,478.83 574.35,478.40 575.62,477.92 576.89,477.41 578.16,476.87 579.43,476.32 580.70,475.76 581.97,475.20 583.24,474.65 584.51,474.11 585.78,473.60 587.05,473.10 588.32,472.58 589.59,472.06 590.86,471.53 592.13,471.00 593.40,470.48 594.67,469.96 595.94,469.46 597.21,468.97 598.48,468.50 599.75,468.06 601.02,467.65 602.29,467.25 603.56,466.83 604.83,466.42 606.10,466.02 607.37,465.63 608.64,465.27 609.91,464.94 611.18,464.65 612.45,464.41 613.72,464.23 614.99,464.12 616.26,464.08 617.53,464.13 618.80,464.26 620.07,464.47 621.34,464.74 622.61,465.06 623.88,465.42 625.15,465.80 626.42,466.20 627.69,466.59 628.96,466.97 630.23,467.33 631.50,467.65" stroke="#d94a4f"/><polyline points="555.30,477.76 556.57,477.02 557.84,476.27 559.11,475.52 560.38,474.77 561.65,474.02 562.92,473.27 564.19,472.52 565.46,471.77 566.73,471.03 568.00,470.29 569.27,469.56 570.54,468.84 571.81,468.12 573.08,467.40 574.35,466.68 575.62,465.97 576.89,465.25 578.16,464.55 579.43,463.85 580.70,463.16 581.97,462.48 583.24,461.81 584.51,461.15 585.78,460.51 587.05,459.87 588.32,459.21 589.59,458.56 590.86,457.90 592.13,457.26 593.40,456.63 594.67,456.02 595.94,455.45 597.21,454.92 598.48,454.43 599.75,453.99 601.02,453.61 602.29,453.27 603.56,452.96 604.83,452.67 606.10,452.42 607.37,452.20 608.64,452.03 609.91,451.91 611.18,451.84 612.45,451.82 613.72,451.87 614.99,451.99 616.26,452.18 617.53,452.46 618.80,452.85 620.07,453.32 621.34,453.86 622.61,454.47 623.88,455.11 625.15,455.78 626.42,456.47 627.69,457.16 628.96,457.84 630.23,458.48 631.50,459.08" stroke="#a8262d"/></g>
<rect x="546.1" y="448.80" width="94.6" height="54.2" fill="none" stroke="#333" stroke-width="0.6"/>
<rect x="546.1" y="438.2" width="94.6" height="10.6" fill="#d9d9d9" stroke="#333" stroke-width="0.6"/>
<text x="593.40" y="446.80" text-anchor="middle" font-family='"Liberation Sans", sans-serif' font-style="italic" font-size="9.8" fill="#1a1a1a">VGF</text>
<g stroke="#333" stroke-width="0.6"><line x1="543.8000000000001" y1="449.80" x2="546.1" y2="449.80"/><line x1="543.8000000000001" y1="461.70" x2="546.1" y2="461.70"/><line x1="543.8000000000001" y1="473.60" x2="546.1" y2="473.60"/><line x1="543.8000000000001" y1="485.50" x2="546.1" y2="485.50"/><line x1="543.8000000000001" y1="497.40" x2="546.1" y2="497.40"/><line x1="555.30" y1="503.00" x2="555.30" y2="505.30"/><line x1="570.54" y1="503.00" x2="570.54" y2="505.30"/><line x1="585.78" y1="503.00" x2="585.78" y2="505.30"/><line x1="601.02" y1="503.00" x2="601.02" y2="505.30"/><line x1="616.26" y1="503.00" x2="616.26" y2="505.30"/><line x1="631.50" y1="503.00" x2="631.50" y2="505.30"/></g>
<g font-family='"Liberation Sans", sans-serif' font-size="9.4" fill="#1a1a1a"><text x="542.7" y="452.80" text-anchor="end">0.4</text><text x="542.7" y="464.70" text-anchor="end">0.3</text><text x="542.7" y="476.60" text-anchor="end">0.2</text><text x="542.7" y="488.50" text-anchor="end">0.1</text><text x="542.7" y="500.40" text-anchor="end">0.0</text></g>
<g font-family='"Liberation Sans", sans-serif' font-size="9.6" fill="#1a1a1a"><text transform="translate(441.60,512.80) rotate(-45)" text-anchor="end">PCW9</text><text transform="translate(456.84,512.80) rotate(-45)" text-anchor="end">PCW12 early</text><text transform="translate(472.08,512.80) rotate(-45)" text-anchor="end">PCW12 late</text><text transform="translate(487.32,512.80) rotate(-45)" text-anchor="end">PCW14</text><text transform="translate(502.56,512.80) rotate(-45)" text-anchor="end">PCW16</text><text transform="translate(517.80,512.80) rotate(-45)" text-anchor="end">PCW17</text><text transform="translate(560.20,512.80) rotate(-45)" text-anchor="end">PCW9</text><text transform="translate(575.44,512.80) rotate(-45)" text-anchor="end">PCW12 early</text><text transform="translate(590.68,512.80) rotate(-45)" text-anchor="end">PCW12 late</text><text transform="translate(605.92,512.80) rotate(-45)" text-anchor="end">PCW14</text><text transform="translate(621.16,512.80) rotate(-45)" text-anchor="end">PCW16</text><text transform="translate(636.40,512.80) rotate(-45)" text-anchor="end">PCW17</text></g>
<g font-family='"Liberation Sans", sans-serif' font-size="9.4" fill="#1a1a1a"><text x="652.1" y="364.2" font-size="9.4">Domain</text><line x1="653" y1="375.20" x2="663.7" y2="375.20" stroke="#a8262d" stroke-width="1.5"/><text x="668.6" y="378.50">D1</text><line x1="653" y1="388.00" x2="663.7" y2="388.00" stroke="#d94a4f" stroke-width="1.5"/><text x="668.6" y="391.30">D2</text><line x1="653" y1="400.80" x2="663.7" y2="400.80" stroke="#f2a7a9" stroke-width="1.5"/><text x="668.6" y="404.10">D3</text><line x1="653" y1="413.60" x2="663.7" y2="413.60" stroke="#dccbe4" stroke-width="1.5"/><text x="668.6" y="416.90">D4</text><line x1="653" y1="426.40" x2="663.7" y2="426.40" stroke="#8c64a6" stroke-width="1.5"/><text x="668.6" y="429.70">D5</text><line x1="653" y1="439.20" x2="663.7" y2="439.20" stroke="#6bb0d6" stroke-width="1.5"/><text x="668.6" y="442.50">D6</text><line x1="653" y1="452.00" x2="663.7" y2="452.00" stroke="#5679ab" stroke-width="1.5"/><text x="668.6" y="455.30">D7</text><line x1="653" y1="464.80" x2="663.7" y2="464.80" stroke="#4a4c97" stroke-width="1.5"/><text x="668.6" y="468.10">D8</text></g>
</svg></body></html>
